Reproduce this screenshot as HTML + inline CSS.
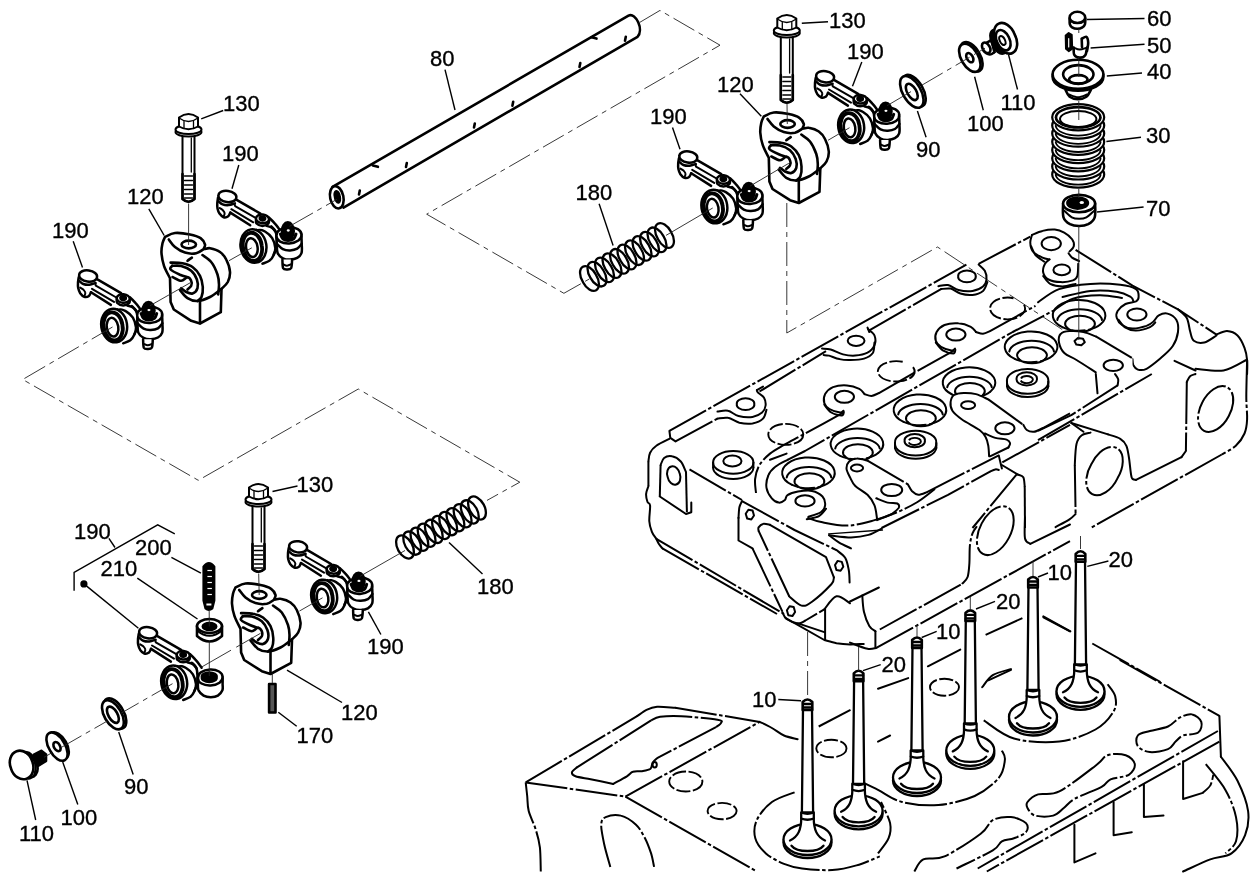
<!DOCTYPE html><html><head><meta charset="utf-8"><title>Parts diagram</title><style>
html,body{margin:0;padding:0;background:#fff}
svg{display:block;filter:grayscale(1)}
.k{fill:none;stroke:#000;stroke-width:2;stroke-linecap:round;stroke-linejoin:round}
.kw{fill:#fff;stroke:#000;stroke-width:2;stroke-linecap:round;stroke-linejoin:round}
.kb{fill:#000;stroke:#000;stroke-width:2;stroke-linecap:round;stroke-linejoin:round}
.k2{fill:none;stroke:#000;stroke-width:2.6;stroke-linecap:round;stroke-linejoin:round}
.k2w{fill:#fff;stroke:#000;stroke-width:2.6;stroke-linecap:round;stroke-linejoin:round}
.m{fill:none;stroke:#000;stroke-width:1.3;stroke-linecap:round;stroke-linejoin:round}
.mw{fill:#fff;stroke:#000;stroke-width:1.3;stroke-linecap:round;stroke-linejoin:round}
.t{fill:none;stroke:#222;stroke-width:0.9}
.td{fill:none;stroke:#222;stroke-width:0.9;stroke-dasharray:24 5 5 5}
.l{fill:none;stroke:#000;stroke-width:1.4}
.h{fill:none;stroke:#000;stroke-width:2;stroke-linecap:butt;stroke-linejoin:round;stroke-dasharray:42 2.5 3.5 2.5}
.hs{fill:none;stroke:#000;stroke-width:2;stroke-linecap:round;stroke-linejoin:round}
.hw{fill:#fff;stroke:#000;stroke-width:1.8;stroke-linecap:round;stroke-linejoin:round}
.hd{fill:none;stroke:#000;stroke-width:1.9;stroke-dasharray:14 2.5}
.rk .k,.rk .kw,.rk .kb{stroke-width:2.5}
.rk .k2{stroke-width:3}
.rk .m{stroke-width:2}
.bk .k,.bk .kw{stroke-width:2.6}
.vv .k,.vv .kw{stroke-width:2.3}
.wf{fill:#fff;stroke:none}
text{font-family:"Liberation Sans",sans-serif;font-size:22px;fill:#000;stroke:#000;stroke-width:0.35px}
</style></head><body><svg width="1258" height="880" viewBox="0 0 1258 880">
<rect width="1258" height="880" fill="#fff"/>
<path class="td" d="M639.9 22.3L660 10.4L720 45.2L426.7 214.2L563.9 293.3L589.3 279"/>
<path class="td" d="M786.8 203L786.8 333L937.5 247L1078 340"/>
<path class="kw" d="M182.5 132L182.5 199Q188.5 204.5 194.5 199L194.5 132Z"/>
<path class="k2" d="M182.5 174L182.5 199Q188.5 204.5 194.5 199L194.5 174"/>
<path class="m" d="M184.5 176L192.5 176"/>
<path class="m" d="M184.5 180.5L192.5 180.5"/>
<path class="m" d="M184.5 185L192.5 185"/>
<path class="m" d="M184.5 189.5L192.5 189.5"/>
<path class="m" d="M184.5 194L192.5 194"/>
<path class="m" d="M184.5 198L192.5 198"/>
<path class="m" d="M191.3 138L191.3 172"/>
<path class="kw" d="M201.5 132A13 4.6 0 1 1 175.5 132A13 4.6 0 1 1 201.5 132Z"/>
<path class="kw" d="M201.5 129.5A13 4.6 0 1 1 175.5 129.5A13 4.6 0 1 1 201.5 129.5Z"/>
<path class="kw" d="M179 117.5L179 126.5Q188.5 132 198 126.5L198 117.5Q188.5 110.5 179 117.5Z"/>
<path class="m" d="M179 118Q188.5 125 198 118"/>
<path class="m" d="M184 121.5L184 128.5M193.5 121.5L193.5 128.5"/>
<path class="kw" d="M780.8 33L780.8 100Q786.8 105.5 792.8 100L792.8 33Z"/>
<path class="k2" d="M780.8 75L780.8 100Q786.8 105.5 792.8 100L792.8 75"/>
<path class="m" d="M782.8 77L790.8 77"/>
<path class="m" d="M782.8 81.5L790.8 81.5"/>
<path class="m" d="M782.8 86L790.8 86"/>
<path class="m" d="M782.8 90.5L790.8 90.5"/>
<path class="m" d="M782.8 95L790.8 95"/>
<path class="m" d="M782.8 99L790.8 99"/>
<path class="m" d="M789.6 39L789.6 73"/>
<path class="kw" d="M799.8 33A13 4.6 0 1 1 773.8 33A13 4.6 0 1 1 799.8 33Z"/>
<path class="kw" d="M799.8 30.5A13 4.6 0 1 1 773.8 30.5A13 4.6 0 1 1 799.8 30.5Z"/>
<path class="kw" d="M777.3 18.5L777.3 27.5Q786.8 33 796.3 27.5L796.3 18.5Q786.8 11.5 777.3 18.5Z"/>
<path class="m" d="M777.3 19Q786.8 26 796.3 19"/>
<path class="m" d="M782.3 22.5L782.3 29.5M791.8 22.5L791.8 29.5"/>
<path class="kw" d="M252.5 502L252.5 569Q258.5 574.5 264.5 569L264.5 502Z"/>
<path class="k2" d="M252.5 544L252.5 569Q258.5 574.5 264.5 569L264.5 544"/>
<path class="m" d="M254.5 546L262.5 546"/>
<path class="m" d="M254.5 550.5L262.5 550.5"/>
<path class="m" d="M254.5 555L262.5 555"/>
<path class="m" d="M254.5 559.5L262.5 559.5"/>
<path class="m" d="M254.5 564L262.5 564"/>
<path class="m" d="M254.5 568L262.5 568"/>
<path class="m" d="M261.3 508L261.3 542"/>
<path class="kw" d="M271.5 502A13 4.6 0 1 1 245.5 502A13 4.6 0 1 1 271.5 502Z"/>
<path class="kw" d="M271.5 499.5A13 4.6 0 1 1 245.5 499.5A13 4.6 0 1 1 271.5 499.5Z"/>
<path class="kw" d="M249 487.5L249 496.5Q258.5 502 268 496.5L268 487.5Q258.5 480.5 249 487.5Z"/>
<path class="m" d="M249 488Q258.5 495 268 488"/>
<path class="m" d="M254 491.5L254 498.5M263.5 491.5L263.5 498.5"/>
<path class="k" style="stroke-width:2.3" d="M596 274.8A7.5 12.5 -29.8 1 1 583 282.2A7.5 12.5 -29.8 1 1 596 274.8Z"/>
<path class="k" style="stroke-width:2.3" d="M603.5 270.5A7.5 12.5 -29.8 1 1 590.5 277.9A7.5 12.5 -29.8 1 1 603.5 270.5Z"/>
<path class="k" style="stroke-width:2.3" d="M611 266.2A7.5 12.5 -29.8 1 1 598 273.6A7.5 12.5 -29.8 1 1 611 266.2Z"/>
<path class="k" style="stroke-width:2.3" d="M618.5 261.9A7.5 12.5 -29.8 1 1 605.5 269.3A7.5 12.5 -29.8 1 1 618.5 261.9Z"/>
<path class="k" style="stroke-width:2.3" d="M626 257.6A7.5 12.5 -29.8 1 1 613 265A7.5 12.5 -29.8 1 1 626 257.6Z"/>
<path class="k" style="stroke-width:2.3" d="M633.5 253.3A7.5 12.5 -29.8 1 1 620.5 260.7A7.5 12.5 -29.8 1 1 633.5 253.3Z"/>
<path class="k" style="stroke-width:2.3" d="M641 249A7.5 12.5 -29.8 1 1 628 256.4A7.5 12.5 -29.8 1 1 641 249Z"/>
<path class="k" style="stroke-width:2.3" d="M648.5 244.7A7.5 12.5 -29.8 1 1 635.5 252.1A7.5 12.5 -29.8 1 1 648.5 244.7Z"/>
<path class="k" style="stroke-width:2.3" d="M656 240.4A7.5 12.5 -29.8 1 1 643 247.8A7.5 12.5 -29.8 1 1 656 240.4Z"/>
<path class="k" style="stroke-width:2.3" d="M663.5 236.1A7.5 12.5 -29.8 1 1 650.5 243.5A7.5 12.5 -29.8 1 1 663.5 236.1Z"/>
<path class="k" style="stroke-width:2.3" d="M671 231.8A7.5 12.5 -29.8 1 1 658 239.2A7.5 12.5 -29.8 1 1 671 231.8Z"/>
<path class="k" style="stroke-width:2.3" d="M411.6 543.4A7.5 12.5 -28.4 1 1 398.4 550.6A7.5 12.5 -28.4 1 1 411.6 543.4Z"/>
<path class="k" style="stroke-width:2.3" d="M418.8 539.5A7.5 12.5 -28.4 1 1 405.6 546.7A7.5 12.5 -28.4 1 1 418.8 539.5Z"/>
<path class="k" style="stroke-width:2.3" d="M426 535.6A7.5 12.5 -28.4 1 1 412.8 542.8A7.5 12.5 -28.4 1 1 426 535.6Z"/>
<path class="k" style="stroke-width:2.3" d="M433.2 531.7A7.5 12.5 -28.4 1 1 420 538.9A7.5 12.5 -28.4 1 1 433.2 531.7Z"/>
<path class="k" style="stroke-width:2.3" d="M440.4 527.8A7.5 12.5 -28.4 1 1 427.2 535A7.5 12.5 -28.4 1 1 440.4 527.8Z"/>
<path class="k" style="stroke-width:2.3" d="M447.6 523.9A7.5 12.5 -28.4 1 1 434.4 531.1A7.5 12.5 -28.4 1 1 447.6 523.9Z"/>
<path class="k" style="stroke-width:2.3" d="M454.8 520A7.5 12.5 -28.4 1 1 441.6 527.2A7.5 12.5 -28.4 1 1 454.8 520Z"/>
<path class="k" style="stroke-width:2.3" d="M462 516.1A7.5 12.5 -28.4 1 1 448.8 523.3A7.5 12.5 -28.4 1 1 462 516.1Z"/>
<path class="k" style="stroke-width:2.3" d="M469.2 512.2A7.5 12.5 -28.4 1 1 456 519.4A7.5 12.5 -28.4 1 1 469.2 512.2Z"/>
<path class="k" style="stroke-width:2.3" d="M476.4 508.3A7.5 12.5 -28.4 1 1 463.2 515.5A7.5 12.5 -28.4 1 1 476.4 508.3Z"/>
<path class="k" style="stroke-width:2.3" d="M483.6 504.4A7.5 12.5 -28.4 1 1 470.4 511.6A7.5 12.5 -28.4 1 1 483.6 504.4Z"/>
<g class="bk"><path class="kw" d="M165 237C166.7 236.3 170.8 233.4 175 233C179.2 232.6 185.7 233.6 190 234.5C194.3 235.4 198.1 236.6 200.6 238.2C203.1 239.9 204.4 242.7 205 244.5C205.6 246.3 203.2 248.2 204 248.9C204.8 249.5 207.3 247.7 210 248.2C212.7 248.8 217.3 250.1 220 252C222.7 253.9 224.6 256.2 226.2 259.5C227.9 262.8 229.8 268.2 230 272C230.2 275.8 229.2 279.2 227.8 282C226.3 284.8 222.5 287.7 221.5 288.9L220.8 312.2L200 323.5L191.2 320.8L173.8 309.5L170.6 302L170 278.2C169 276.2 165.4 269.9 164 265.8C162.6 261.6 161.8 257 161.5 253.2C161.2 249.5 161.9 246 162.5 243.2C163.1 240.5 164.6 238 165 237Z"/>
<path class="k" d="M168.8 239.5C169.8 240.8 172.3 244.8 175 247C177.7 249.2 181.5 251.6 185 252.6C188.5 253.7 193.1 253.9 196.2 253.2C199.4 252.6 202.7 249.6 204 248.9"/>
<path class="k" d="M196 244.5A7.2 3.8 0 1 1 181.5 244.5A7.2 3.8 0 1 1 196 244.5Z"/>
<path class="k" d="M202.5 255.1C204 256.3 208.8 258.8 211.2 262C213.8 265.2 216.2 270.8 217.5 274.5C218.8 278.2 218.9 281.2 219 284.5C219.1 287.8 218.4 292.8 218.2 294.5"/>
<path class="k" d="M170.6 262.6C172.6 262.7 178.9 262.5 182.5 263.2C186.1 264 189.6 264.9 192.5 267C195.4 269.1 198.3 272.4 200 275.8C201.7 279.1 202.5 283.5 202.8 287C203 290.5 202.4 294.7 201.5 297C200.6 299.3 198.2 300.3 197.5 301"/>
<path class="k" d="M187.5 260.8C187.9 260.4 189.3 259.4 190 258.9C190.7 258.4 191.6 257.8 191.9 257.6"/>
<path class="k" d="M172.2 265.8C173.8 265.8 178.1 265.2 181.2 266C184.4 266.8 188.6 268.5 191.2 270.8C193.9 273 195.8 276.6 196.9 279.5C197.9 282.4 198.2 285.9 197.5 288.2C196.8 290.6 194.4 292.9 192.5 293.5C190.6 294.1 188.1 292.9 186.2 292C184.4 291.1 182.1 288.9 181.2 288.2"/>
<path class="k" d="M172.2 265.8C172 266.4 169.3 268 170.6 269.5C171.9 271 177.2 273.5 180 274.8C182.8 276 186.2 276.8 187.5 277.2"/>
<path class="k" d="M172.5 277C174 277.6 178.8 280.7 181.2 280.8C183.8 280.8 185.8 277.2 187.5 277.2C189.2 277.2 190.6 279.3 191.2 280.8C191.9 282.2 191.9 284.3 191.2 285.8C190.6 287.2 188.1 288.9 187.5 289.5"/>
<path class="k" d="M180 290.1C181.2 291.5 184.6 296.4 187.5 298.2C190.4 300.1 193.8 301.2 197.5 301C201.2 300.8 206 299 210 297C214 295 219.6 290.2 221.5 288.9"/>
<path class="k" d="M200 301L200 323.2"/></g>
<g class="bk"><path class="kw" d="M763.8 116.5C765.5 115.8 769.6 112.9 773.8 112.5C778 112.1 784.5 113.1 788.8 114C793.1 114.9 796.9 116.1 799.4 117.8C801.9 119.4 803.2 122.2 803.8 124C804.4 125.8 802 127.8 802.8 128.4C803.6 129 806.1 127.2 808.8 127.8C811.5 128.3 816.1 129.6 818.8 131.5C821.5 133.4 823.4 135.7 825 139C826.7 142.3 828.5 147.8 828.8 151.5C829 155.2 828 158.7 826.5 161.5C825.1 164.3 821.3 167.2 820.3 168.4L819.5 191.8L798.8 203L790 200.2L772.5 189L769.4 181.5L768.8 157.8C767.8 155.7 764.2 149.4 762.8 145.2C761.4 141.1 760.5 136.5 760.3 132.8C760 129 760.7 125.5 761.3 122.8C761.9 120 763.4 117.5 763.8 116.5Z"/>
<path class="k" d="M767.5 119C768.6 120.2 771.1 124.3 773.8 126.5C776.5 128.7 780.3 131.1 783.8 132.1C787.3 133.2 791.9 133.4 795 132.8C798.2 132.1 801.5 129.1 802.8 128.4"/>
<path class="k" d="M794.8 124A7.2 3.8 0 1 1 780.3 124A7.2 3.8 0 1 1 794.8 124Z"/>
<path class="k" d="M801.3 134.6C802.8 135.8 807.5 138.3 810 141.5C812.5 144.7 815 150.2 816.3 154C817.6 157.8 817.7 160.7 817.8 164C817.9 167.3 817.2 172.3 817 174"/>
<path class="k" d="M769.4 142.1C771.4 142.2 777.7 142 781.3 142.8C784.9 143.5 788.4 144.4 791.3 146.5C794.2 148.6 797.1 151.9 798.8 155.2C800.5 158.6 801.3 163 801.5 166.5C801.8 170 801.2 174.2 800.3 176.5C799.4 178.8 797 179.8 796.3 180.5"/>
<path class="k" d="M786.3 140.2C786.7 139.9 788.1 138.9 788.8 138.4C789.5 137.9 790.4 137.3 790.7 137.1"/>
<path class="k" d="M771 145.2C772.5 145.3 776.9 144.7 780 145.5C783.2 146.3 787.4 148 790 150.2C792.7 152.5 794.6 156.1 795.7 159C796.7 161.9 797 165.4 796.3 167.8C795.6 170.1 793.2 172.4 791.3 173C789.4 173.6 786.9 172.4 785 171.5C783.2 170.6 780.9 168.4 780 167.8"/>
<path class="k" d="M771 145.2C770.8 145.9 768.1 147.5 769.4 149C770.7 150.5 776 153 778.8 154.2C781.6 155.5 785 156.3 786.3 156.8"/>
<path class="k" d="M771.3 156.5C772.8 157.1 777.5 160.2 780 160.2C782.5 160.3 784.6 156.8 786.3 156.8C788 156.8 789.4 158.8 790 160.2C790.7 161.7 790.7 163.8 790 165.2C789.4 166.7 786.9 168.4 786.3 169"/>
<path class="k" d="M778.8 169.6C780 171 783.4 175.9 786.3 177.8C789.2 179.6 792.5 180.7 796.3 180.5C800 180.3 804.8 178.5 808.8 176.5C812.8 174.5 818.4 169.7 820.3 168.4"/>
<path class="k" d="M798.8 180.5L798.8 202.8"/></g>
<g class="bk"><path class="kw" d="M235.5 587.5C237.2 586.8 241.3 583.9 245.5 583.5C249.7 583.1 256.2 584.1 260.5 585C264.8 585.9 268.6 587.1 271.1 588.8C273.6 590.4 274.9 593.2 275.5 595C276.1 596.8 273.7 598.8 274.5 599.4C275.3 600 277.8 598.2 280.5 598.8C283.2 599.3 287.8 600.6 290.5 602.5C293.2 604.4 295.1 606.7 296.8 610C298.4 613.3 300.2 618.8 300.5 622.5C300.8 626.2 299.7 629.7 298.2 632.5C296.8 635.3 293 638.2 292 639.4L291.2 662.8L270.5 674L261.8 671.2L244.2 660L241.1 652.5L240.5 628.8C239.5 626.7 235.9 620.4 234.5 616.2C233.1 612.1 232.2 607.5 232 603.8C231.8 600 232.4 596.5 233 593.8C233.6 591 235.1 588.5 235.5 587.5Z"/>
<path class="k" d="M239.2 590C240.3 591.2 242.8 595.3 245.5 597.5C248.2 599.7 252 602.1 255.5 603.1C259 604.2 263.6 604.4 266.8 603.8C269.9 603.1 273.2 600.1 274.5 599.4"/>
<path class="k" d="M266.5 595A7.2 3.8 0 1 1 252 595A7.2 3.8 0 1 1 266.5 595Z"/>
<path class="k" d="M273 605.6C274.5 606.8 279.2 609.3 281.8 612.5C284.2 615.7 286.7 621.2 288 625C289.3 628.8 289.4 631.7 289.5 635C289.6 638.3 288.9 643.3 288.8 645"/>
<path class="k" d="M241.1 613.1C243.1 613.2 249.4 613 253 613.8C256.6 614.5 260.1 615.4 263 617.5C265.9 619.6 268.8 622.9 270.5 626.2C272.2 629.6 273 634 273.2 637.5C273.5 641 272.9 645.2 272 647.5C271.1 649.8 268.7 650.8 268 651.5"/>
<path class="k" d="M258 611.2C258.4 610.9 259.8 609.9 260.5 609.4C261.2 608.9 262.1 608.3 262.4 608.1"/>
<path class="k" d="M242.8 616.2C244.2 616.3 248.6 615.7 251.8 616.5C254.9 617.3 259.1 619 261.8 621.2C264.4 623.5 266.3 627.1 267.4 630C268.4 632.9 268.7 636.4 268 638.8C267.3 641.1 264.9 643.4 263 644C261.1 644.6 258.6 643.4 256.8 642.5C254.9 641.6 252.6 639.4 251.8 638.8"/>
<path class="k" d="M242.8 616.2C242.5 616.9 239.8 618.5 241.1 620C242.4 621.5 247.7 624 250.5 625.2C253.3 626.5 256.8 627.3 258 627.8"/>
<path class="k" d="M243 627.5C244.5 628.1 249.2 631.2 251.8 631.2C254.2 631.3 256.3 627.8 258 627.8C259.7 627.8 261.1 629.8 261.8 631.2C262.4 632.7 262.4 634.8 261.8 636.2C261.1 637.7 258.6 639.4 258 640"/>
<path class="k" d="M250.5 640.6C251.8 642 255.1 646.9 258 648.8C260.9 650.6 264.2 651.7 268 651.5C271.8 651.3 276.5 649.5 280.5 647.5C284.5 645.5 290.1 640.7 292 639.4"/>
<path class="k" d="M270.5 651.5L270.5 673.8"/></g>
<g class="rk"><path class="kw" d="M118.1 308.5C119.3 308.9 123.3 309.5 125.7 311.1C128.2 312.6 131.2 315 132.9 317.7C134.6 320.5 135.7 324.6 136 327.4C136.2 330.3 135.4 332.5 134.4 334.6C133.5 336.7 132.2 338.8 130.3 340.2C128.5 341.7 124.4 342.8 123.2 343.3"/>
<path class="kw" d="M91 292.2L110.9 305.1L118.1 308.5L131.3 307L140.6 312.1L142.1 310.1L136 302.9L130.3 297.3L123.2 293.9L97.6 278.9L85.3 272.2L79.2 277.3Z" style="stroke-width:0"/>
<path class="kw" d="M78.7 277.3C78.6 278.2 78.1 280.7 78 282.4C77.9 284.2 77.8 286.3 78.2 288.1C78.6 289.9 79.2 291.7 80.2 293.2C81.2 294.6 82.9 296.3 84.3 296.8C85.8 297.2 87.8 296.7 88.9 295.9C90 295.2 90.6 292.8 91 292.2"/>
<path class="kw" d="M97 277.3A9 5.3 8 1 1 79.2 274.8A9 5.3 8 1 1 97 277.3Z"/>
<path class="k" d="M79.2 280.9C79.9 281.4 81.6 283.4 83.3 284C85 284.6 87.4 284.9 89.4 284.7C91.5 284.5 94.5 283.3 95.6 283"/>
<path class="m" d="M95.4 284L95.8 285.7L117.2 298"/>
<path class="m" d="M92 288.8L114 301.9"/>
<path class="k" d="M97.4 279.4L121.1 293.2"/>
<path class="k" d="M91 292.2L110.9 304.9"/>
<path class="m" d="M80.2 287.6C80.7 287.9 82.4 288.8 83.3 289.6C84.1 290.5 85.2 291.6 85.3 292.7C85.5 293.8 84.5 295.7 84.3 296.3"/>
<path class="k" d="M129.8 297.3C130.8 298.2 133.8 301.1 135.4 302.9C137.1 304.7 138.5 306.6 139.5 308C140.6 309.4 141.2 310.6 141.6 311.1"/>
<path class="k" d="M127.3 305.5C128.2 305.8 131.3 306.5 132.9 307.5C134.4 308.5 135.9 310.9 136.5 311.6"/>
<path class="kw" d="M116.8 298.8C116.9 299.5 116.2 301.8 117.2 302.9C118.3 304 121.2 305.5 123.2 305.5C125.2 305.5 128.2 304 129.3 302.9C130.4 301.8 129.5 299.5 129.5 298.8"/>
<path class="kw" d="M129.7 299.1A6.5 4.3 5 1 1 116.7 297.9A6.5 4.3 5 1 1 129.7 299.1Z"/>
<path class="kb" d="M125.8 298.2A2.7 1.7 5 1 1 120.5 297.8A2.7 1.7 5 1 1 125.8 298.2Z"/>
<path class="k" d="M131.9 306C132.6 306.8 135.3 308.9 136.3 311.1C137.2 313.3 137.4 316.4 137.5 319.3C137.6 322.2 137.2 326 136.7 328.5C136.2 330.9 134.8 333.1 134.4 334.1"/>
<path class="kw" d="M126.9 323.6A12.9 16.8 -9 1 1 101.4 327.6A12.9 16.8 -9 1 1 126.9 323.6Z"/>
<path class="k" d="M122.4 324.9A9.4 13.1 -9 1 1 103.9 327.9A9.4 13.1 -9 1 1 122.4 324.9Z" style="stroke-width:3.8"/>
<path class="kw" d="M118.2 326.3A5.7 9.4 -9 1 1 106.9 328.1A5.7 9.4 -9 1 1 118.2 326.3Z"/>
<path class="kw" d="M137.3 315.2C137.3 316.5 137.3 320.5 137.5 323.3C137.7 326.2 137.3 330.1 138.3 332.6C139.3 335 141.5 336.8 143.6 337.9C145.7 339 148.4 339.3 150.8 339.2C153.2 339.1 156 338.6 157.9 337.5C159.8 336.4 161.5 334.9 162.2 332.6C163 330.2 162.5 326.5 162.4 323.3C162.4 320.2 162.1 315.3 162 313.6"/>
<path class="kw" d="M162.1 314.3A12.5 7.6 -3 1 1 137.2 315.6A12.5 7.6 -3 1 1 162.1 314.3Z"/>
<path class="k" d="M137.5 323.3C138.5 324.2 141.4 327.6 143.6 328.7C145.8 329.8 148.4 330.1 150.8 330C153.2 329.9 156 329.4 157.9 328.3C159.9 327.1 161.7 324.2 162.4 323.3"/>
<path class="kb" d="M154.5 310.6A5.9 8.6 0 1 1 142.6 310.6A5.9 8.6 0 1 1 154.5 310.6Z"/>
<path class="kw" d="M150.5 310.1A1.5 1.1 0 1 1 147.4 310.1A1.5 1.1 0 1 1 150.5 310.1Z" style="stroke-width:0"/>
<path class="k2" d="M141.1 313.6C141.5 314.4 142.3 317.4 143.6 318.4C144.9 319.5 146.9 320.1 148.7 320.1C150.5 320.1 153 319.5 154.4 318.4C155.7 317.4 156.3 314.4 156.7 313.6"/>
<path class="kw" d="M143.1 339.2C143.2 340.6 143.1 346 143.8 347.7C144.6 349.3 146.4 349.1 147.7 349.1C149 349.1 150.9 349.3 151.8 347.7C152.7 346 152.7 340.6 152.8 339.2"/>
<path class="m" d="M143.8 343.8C144.5 344.1 146.3 345.3 147.7 345.3C149.1 345.3 151.3 344.1 152 343.8"/></g>
<g class="rk"><path class="kw" d="M257.4 228.9C258.6 229.3 262.6 229.9 265 231.5C267.5 233 270.5 235.4 272.2 238.1C273.9 240.9 275 245 275.3 247.8C275.5 250.7 274.7 252.9 273.7 255C272.8 257.1 271.5 259.2 269.6 260.6C267.8 262.1 263.7 263.2 262.5 263.7"/>
<path class="kw" d="M230.3 212.6L250.2 225.5L257.4 228.9L270.6 227.4L279.9 232.5L281.4 230.5L275.3 223.3L269.6 217.7L262.5 214.3L236.9 199.3L224.6 192.6L218.5 197.7Z" style="stroke-width:0"/>
<path class="kw" d="M218 197.7C217.9 198.6 217.4 201.1 217.3 202.8C217.2 204.6 217.1 206.7 217.5 208.5C217.9 210.3 218.5 212.1 219.5 213.6C220.5 215 222.2 216.7 223.6 217.2C225.1 217.6 227.1 217.1 228.2 216.3C229.3 215.6 229.9 213.2 230.3 212.6"/>
<path class="kw" d="M236.3 197.7A9 5.3 8 1 1 218.5 195.2A9 5.3 8 1 1 236.3 197.7Z"/>
<path class="k" d="M218.5 201.3C219.2 201.8 220.9 203.8 222.6 204.4C224.3 205 226.7 205.3 228.7 205.1C230.8 204.9 233.8 203.7 234.9 203.4"/>
<path class="m" d="M234.7 204.4L235.1 206.1L256.5 218.4"/>
<path class="m" d="M231.3 209.2L253.3 222.3"/>
<path class="k" d="M236.7 199.8L260.4 213.6"/>
<path class="k" d="M230.3 212.6L250.2 225.3"/>
<path class="m" d="M219.5 208C220 208.3 221.7 209.2 222.6 210C223.4 210.9 224.5 212 224.6 213.1C224.8 214.2 223.8 216.1 223.6 216.7"/>
<path class="k" d="M269.1 217.7C270.1 218.6 273.1 221.5 274.7 223.3C276.4 225.1 277.8 227 278.8 228.4C279.9 229.8 280.5 231 280.9 231.5"/>
<path class="k" d="M266.6 225.9C267.5 226.2 270.6 226.9 272.2 227.9C273.7 228.9 275.2 231.3 275.8 232"/>
<path class="kw" d="M256.1 219.2C256.2 219.9 255.5 222.2 256.5 223.3C257.6 224.4 260.5 225.9 262.5 225.9C264.5 225.9 267.5 224.4 268.6 223.3C269.7 222.2 268.8 219.9 268.8 219.2"/>
<path class="kw" d="M269 219.5A6.5 4.3 5 1 1 256 218.3A6.5 4.3 5 1 1 269 219.5Z"/>
<path class="kb" d="M265.1 218.6A2.7 1.7 5 1 1 259.8 218.2A2.7 1.7 5 1 1 265.1 218.6Z"/>
<path class="k" d="M271.2 226.4C271.9 227.2 274.6 229.3 275.6 231.5C276.5 233.7 276.7 236.8 276.8 239.7C276.9 242.6 276.5 246.4 276 248.9C275.5 251.3 274.1 253.5 273.7 254.5"/>
<path class="kw" d="M266.2 244A12.9 16.8 -9 1 1 240.7 248A12.9 16.8 -9 1 1 266.2 244Z"/>
<path class="k" d="M261.7 245.3A9.4 13.1 -9 1 1 243.2 248.3A9.4 13.1 -9 1 1 261.7 245.3Z" style="stroke-width:3.8"/>
<path class="kw" d="M257.5 246.7A5.7 9.4 -9 1 1 246.2 248.5A5.7 9.4 -9 1 1 257.5 246.7Z"/>
<path class="kw" d="M276.6 235.6C276.6 236.9 276.6 240.9 276.8 243.7C277 246.6 276.6 250.5 277.6 253C278.6 255.4 280.8 257.2 282.9 258.3C285 259.4 287.7 259.7 290.1 259.6C292.5 259.5 295.3 259 297.2 257.9C299.1 256.8 300.8 255.3 301.5 253C302.3 250.6 301.8 246.9 301.7 243.7C301.7 240.6 301.4 235.7 301.3 234"/>
<path class="kw" d="M301.4 234.7A12.5 7.6 -3 1 1 276.5 236A12.5 7.6 -3 1 1 301.4 234.7Z"/>
<path class="k" d="M276.8 243.7C277.8 244.6 280.7 248 282.9 249.1C285.1 250.2 287.7 250.5 290.1 250.4C292.5 250.3 295.3 249.8 297.2 248.7C299.2 247.5 301 244.6 301.7 243.7"/>
<path class="kb" d="M293.8 231A5.9 8.6 0 1 1 281.9 231A5.9 8.6 0 1 1 293.8 231Z"/>
<path class="kw" d="M289.8 230.5A1.5 1.1 0 1 1 286.7 230.5A1.5 1.1 0 1 1 289.8 230.5Z" style="stroke-width:0"/>
<path class="k2" d="M280.4 234C280.8 234.8 281.6 237.8 282.9 238.8C284.2 239.9 286.2 240.5 288 240.5C289.8 240.5 292.3 239.9 293.7 238.8C295 237.8 295.6 234.8 296 234"/>
<path class="kw" d="M282.4 259.6C282.5 261 282.4 266.4 283.1 268.1C283.9 269.7 285.7 269.5 287 269.5C288.3 269.5 290.2 269.7 291.1 268.1C292 266.4 292 261 292.1 259.6"/>
<path class="m" d="M283.1 264.2C283.8 264.5 285.6 265.7 287 265.7C288.4 265.7 290.6 264.5 291.3 264.2"/></g>
<g class="rk"><path class="kw" d="M718.3 189.5C719.5 189.9 723.5 190.5 725.9 192.1C728.4 193.6 731.4 196 733.1 198.7C734.8 201.5 735.9 205.6 736.2 208.4C736.4 211.3 735.6 213.5 734.6 215.6C733.7 217.7 732.4 219.8 730.5 221.2C728.7 222.7 724.6 223.8 723.4 224.3"/>
<path class="kw" d="M691.2 173.2L711.1 186.1L718.3 189.5L731.5 188L740.8 193.1L742.3 191.1L736.2 183.9L730.5 178.3L723.4 174.9L697.8 159.9L685.5 153.2L679.4 158.3Z" style="stroke-width:0"/>
<path class="kw" d="M678.9 158.3C678.8 159.2 678.3 161.7 678.2 163.4C678.1 165.2 678 167.3 678.4 169.1C678.8 170.9 679.4 172.7 680.4 174.2C681.4 175.6 683.1 177.3 684.5 177.8C686 178.2 688 177.7 689.1 176.9C690.2 176.2 690.8 173.8 691.2 173.2"/>
<path class="kw" d="M697.2 158.3A9 5.3 8 1 1 679.4 155.8A9 5.3 8 1 1 697.2 158.3Z"/>
<path class="k" d="M679.4 161.9C680.1 162.4 681.8 164.4 683.5 165C685.2 165.6 687.6 165.9 689.6 165.7C691.7 165.5 694.7 164.3 695.8 164"/>
<path class="m" d="M695.6 165L696 166.7L717.4 179"/>
<path class="m" d="M692.2 169.8L714.2 182.9"/>
<path class="k" d="M697.6 160.4L721.3 174.2"/>
<path class="k" d="M691.2 173.2L711.1 185.9"/>
<path class="m" d="M680.4 168.6C680.9 168.9 682.6 169.8 683.5 170.6C684.3 171.5 685.4 172.6 685.5 173.7C685.7 174.8 684.7 176.7 684.5 177.3"/>
<path class="k" d="M730 178.3C731 179.2 734 182.1 735.6 183.9C737.3 185.7 738.7 187.6 739.7 189C740.8 190.4 741.4 191.6 741.8 192.1"/>
<path class="k" d="M727.5 186.5C728.4 186.8 731.5 187.5 733.1 188.5C734.6 189.5 736.1 191.9 736.7 192.6"/>
<path class="kw" d="M717 179.8C717.1 180.5 716.4 182.8 717.4 183.9C718.5 185 721.4 186.5 723.4 186.5C725.4 186.5 728.4 185 729.5 183.9C730.6 182.8 729.7 180.5 729.7 179.8"/>
<path class="kw" d="M729.9 180.1A6.5 4.3 5 1 1 716.9 178.9A6.5 4.3 5 1 1 729.9 180.1Z"/>
<path class="kb" d="M726 179.2A2.7 1.7 5 1 1 720.7 178.8A2.7 1.7 5 1 1 726 179.2Z"/>
<path class="k" d="M732.1 187C732.8 187.8 735.5 189.9 736.5 192.1C737.4 194.3 737.6 197.4 737.7 200.3C737.8 203.2 737.4 207 736.9 209.5C736.4 211.9 735 214.1 734.6 215.1"/>
<path class="kw" d="M727.1 204.6A12.9 16.8 -9 1 1 701.6 208.6A12.9 16.8 -9 1 1 727.1 204.6Z"/>
<path class="k" d="M722.6 205.9A9.4 13.1 -9 1 1 704.1 208.9A9.4 13.1 -9 1 1 722.6 205.9Z" style="stroke-width:3.8"/>
<path class="kw" d="M718.4 207.3A5.7 9.4 -9 1 1 707.1 209.1A5.7 9.4 -9 1 1 718.4 207.3Z"/>
<path class="kw" d="M737.5 196.2C737.5 197.5 737.5 201.5 737.7 204.3C737.9 207.2 737.5 211.1 738.5 213.6C739.5 216 741.7 217.8 743.8 218.9C745.9 220 748.6 220.3 751 220.2C753.4 220.1 756.2 219.6 758.1 218.5C760 217.4 761.7 215.9 762.4 213.6C763.2 211.2 762.7 207.5 762.6 204.3C762.6 201.2 762.3 196.3 762.2 194.6"/>
<path class="kw" d="M762.3 195.3A12.5 7.6 -3 1 1 737.4 196.6A12.5 7.6 -3 1 1 762.3 195.3Z"/>
<path class="k" d="M737.7 204.3C738.7 205.2 741.6 208.6 743.8 209.7C746 210.8 748.6 211.1 751 211C753.4 210.9 756.2 210.4 758.1 209.3C760.1 208.1 761.9 205.2 762.6 204.3"/>
<path class="kb" d="M754.7 191.6A5.9 8.6 0 1 1 742.8 191.6A5.9 8.6 0 1 1 754.7 191.6Z"/>
<path class="kw" d="M750.7 191.1A1.5 1.1 0 1 1 747.6 191.1A1.5 1.1 0 1 1 750.7 191.1Z" style="stroke-width:0"/>
<path class="k2" d="M741.3 194.6C741.7 195.4 742.5 198.4 743.8 199.4C745.1 200.5 747.1 201.1 748.9 201.1C750.7 201.1 753.2 200.5 754.6 199.4C755.9 198.4 756.5 195.4 756.9 194.6"/>
<path class="kw" d="M743.3 220.2C743.4 221.6 743.3 227 744 228.7C744.8 230.3 746.6 230.1 747.9 230.1C749.2 230.1 751.1 230.3 752 228.7C752.9 227 752.9 221.6 753 220.2"/>
<path class="m" d="M744 224.8C744.7 225.1 746.5 226.3 747.9 226.3C749.3 226.3 751.5 225.1 752.2 224.8"/></g>
<g class="rk"><path class="kw" d="M855.1 109.2C856.3 109.6 860.3 110.2 862.7 111.8C865.2 113.3 868.2 115.7 869.9 118.4C871.6 121.2 872.7 125.3 873 128.1C873.2 131 872.4 133.2 871.4 135.3C870.5 137.4 869.2 139.5 867.3 140.9C865.5 142.4 861.4 143.5 860.2 144"/>
<path class="kw" d="M828 92.9L847.9 105.8L855.1 109.2L868.3 107.7L877.6 112.8L879.1 110.8L873 103.6L867.3 98L860.2 94.6L834.6 79.6L822.3 72.9L816.2 78Z" style="stroke-width:0"/>
<path class="kw" d="M815.7 78C815.6 78.9 815.1 81.4 815 83.1C814.9 84.9 814.8 87 815.2 88.8C815.6 90.6 816.2 92.4 817.2 93.9C818.2 95.3 819.9 97 821.3 97.5C822.8 97.9 824.8 97.4 825.9 96.6C827 95.9 827.6 93.5 828 92.9"/>
<path class="kw" d="M834 78A9 5.3 8 1 1 816.2 75.5A9 5.3 8 1 1 834 78Z"/>
<path class="k" d="M816.2 81.6C816.9 82.1 818.6 84.1 820.3 84.7C822 85.3 824.4 85.6 826.4 85.4C828.5 85.2 831.5 84 832.6 83.7"/>
<path class="m" d="M832.4 84.7L832.8 86.4L854.2 98.7"/>
<path class="m" d="M829 89.5L851 102.6"/>
<path class="k" d="M834.4 80.1L858.1 93.9"/>
<path class="k" d="M828 92.9L847.9 105.6"/>
<path class="m" d="M817.2 88.3C817.7 88.6 819.4 89.5 820.3 90.3C821.1 91.2 822.2 92.3 822.3 93.4C822.5 94.5 821.5 96.4 821.3 97"/>
<path class="k" d="M866.8 98C867.8 98.9 870.8 101.8 872.4 103.6C874.1 105.4 875.5 107.3 876.5 108.7C877.6 110.1 878.2 111.3 878.6 111.8"/>
<path class="k" d="M864.3 106.2C865.2 106.5 868.3 107.2 869.9 108.2C871.4 109.2 872.9 111.6 873.5 112.3"/>
<path class="kw" d="M853.8 99.5C853.9 100.2 853.2 102.5 854.2 103.6C855.3 104.7 858.2 106.2 860.2 106.2C862.2 106.2 865.2 104.7 866.3 103.6C867.4 102.5 866.5 100.2 866.5 99.5"/>
<path class="kw" d="M866.7 99.8A6.5 4.3 5 1 1 853.7 98.6A6.5 4.3 5 1 1 866.7 99.8Z"/>
<path class="kb" d="M862.8 98.9A2.7 1.7 5 1 1 857.5 98.5A2.7 1.7 5 1 1 862.8 98.9Z"/>
<path class="k" d="M868.9 106.7C869.6 107.5 872.3 109.6 873.3 111.8C874.2 114 874.4 117.1 874.5 120C874.6 122.9 874.2 126.7 873.7 129.2C873.2 131.6 871.8 133.8 871.4 134.8"/>
<path class="kw" d="M863.9 124.3A12.9 16.8 -9 1 1 838.4 128.3A12.9 16.8 -9 1 1 863.9 124.3Z"/>
<path class="k" d="M859.4 125.6A9.4 13.1 -9 1 1 840.9 128.6A9.4 13.1 -9 1 1 859.4 125.6Z" style="stroke-width:3.8"/>
<path class="kw" d="M855.2 127A5.7 9.4 -9 1 1 843.9 128.8A5.7 9.4 -9 1 1 855.2 127Z"/>
<path class="kw" d="M874.3 115.9C874.3 117.2 874.3 121.2 874.5 124C874.7 126.9 874.3 130.8 875.3 133.3C876.3 135.7 878.5 137.5 880.6 138.6C882.7 139.7 885.4 140 887.8 139.9C890.2 139.8 893 139.3 894.9 138.2C896.8 137.1 898.5 135.6 899.2 133.3C900 130.9 899.5 127.2 899.4 124C899.4 120.9 899.1 116 899 114.3"/>
<path class="kw" d="M899.1 115A12.5 7.6 -3 1 1 874.2 116.3A12.5 7.6 -3 1 1 899.1 115Z"/>
<path class="k" d="M874.5 124C875.5 124.9 878.4 128.3 880.6 129.4C882.8 130.5 885.4 130.8 887.8 130.7C890.2 130.6 893 130.1 894.9 129C896.9 127.8 898.7 124.9 899.4 124"/>
<path class="kb" d="M891.5 111.3A5.9 8.6 0 1 1 879.6 111.3A5.9 8.6 0 1 1 891.5 111.3Z"/>
<path class="kw" d="M887.5 110.8A1.5 1.1 0 1 1 884.4 110.8A1.5 1.1 0 1 1 887.5 110.8Z" style="stroke-width:0"/>
<path class="k2" d="M878.1 114.3C878.5 115.1 879.3 118.1 880.6 119.1C881.9 120.2 883.9 120.8 885.7 120.8C887.5 120.8 890 120.2 891.4 119.1C892.7 118.1 893.3 115.1 893.7 114.3"/>
<path class="kw" d="M880.1 139.9C880.2 141.3 880.1 146.7 880.8 148.4C881.6 150 883.4 149.8 884.7 149.8C886 149.8 887.9 150 888.8 148.4C889.7 146.7 889.7 141.3 889.8 139.9"/>
<path class="m" d="M880.8 144.5C881.5 144.8 883.3 146 884.7 146C886.1 146 888.3 144.8 889 144.5"/></g>
<g class="rk"><path class="kw" d="M328.1 579.3C329.3 579.7 333.3 580.3 335.7 581.9C338.2 583.4 341.2 585.8 342.9 588.5C344.6 591.3 345.7 595.4 346 598.2C346.2 601.1 345.4 603.3 344.4 605.4C343.5 607.5 342.2 609.6 340.3 611C338.5 612.5 334.4 613.6 333.2 614.1"/>
<path class="kw" d="M301 563L320.9 575.9L328.1 579.3L341.3 577.8L350.6 582.9L352.1 580.9L346 573.7L340.3 568.1L333.2 564.7L307.6 549.7L295.3 543L289.2 548.1Z" style="stroke-width:0"/>
<path class="kw" d="M288.7 548.1C288.6 549 288.1 551.5 288 553.2C287.9 555 287.8 557.1 288.2 558.9C288.6 560.7 289.2 562.5 290.2 564C291.2 565.4 292.9 567.1 294.3 567.6C295.8 568 297.8 567.5 298.9 566.7C300 566 300.6 563.6 301 563"/>
<path class="kw" d="M307 548.1A9 5.3 8 1 1 289.2 545.6A9 5.3 8 1 1 307 548.1Z"/>
<path class="k" d="M289.2 551.7C289.9 552.2 291.6 554.2 293.3 554.8C295 555.4 297.4 555.7 299.4 555.5C301.5 555.3 304.5 554.1 305.6 553.8"/>
<path class="m" d="M305.4 554.8L305.8 556.5L327.2 568.8"/>
<path class="m" d="M302 559.6L324 572.7"/>
<path class="k" d="M307.4 550.2L331.1 564"/>
<path class="k" d="M301 563L320.9 575.7"/>
<path class="m" d="M290.2 558.4C290.7 558.7 292.4 559.6 293.3 560.4C294.1 561.3 295.2 562.4 295.3 563.5C295.5 564.6 294.5 566.5 294.3 567.1"/>
<path class="k" d="M339.8 568.1C340.8 569 343.8 571.9 345.4 573.7C347.1 575.5 348.5 577.4 349.5 578.8C350.6 580.2 351.2 581.4 351.6 581.9"/>
<path class="k" d="M337.3 576.3C338.2 576.6 341.3 577.3 342.9 578.3C344.4 579.3 345.9 581.7 346.5 582.4"/>
<path class="kw" d="M326.8 569.6C326.9 570.3 326.2 572.6 327.2 573.7C328.3 574.8 331.2 576.3 333.2 576.3C335.2 576.3 338.2 574.8 339.3 573.7C340.4 572.6 339.5 570.3 339.5 569.6"/>
<path class="kw" d="M339.7 569.9A6.5 4.3 5 1 1 326.7 568.7A6.5 4.3 5 1 1 339.7 569.9Z"/>
<path class="kb" d="M335.8 569A2.7 1.7 5 1 1 330.5 568.6A2.7 1.7 5 1 1 335.8 569Z"/>
<path class="k" d="M341.9 576.8C342.6 577.6 345.3 579.7 346.3 581.9C347.2 584.1 347.4 587.2 347.5 590.1C347.6 593 347.2 596.8 346.7 599.3C346.2 601.7 344.8 603.9 344.4 604.9"/>
<path class="kw" d="M336.9 594.4A12.9 16.8 -9 1 1 311.4 598.4A12.9 16.8 -9 1 1 336.9 594.4Z"/>
<path class="k" d="M332.4 595.7A9.4 13.1 -9 1 1 313.9 598.7A9.4 13.1 -9 1 1 332.4 595.7Z" style="stroke-width:3.8"/>
<path class="kw" d="M328.2 597.1A5.7 9.4 -9 1 1 316.9 598.9A5.7 9.4 -9 1 1 328.2 597.1Z"/>
<path class="kw" d="M347.3 586C347.3 587.3 347.3 591.3 347.5 594.1C347.7 597 347.3 600.9 348.3 603.4C349.3 605.8 351.5 607.6 353.6 608.7C355.7 609.8 358.4 610.1 360.8 610C363.2 609.9 366 609.4 367.9 608.3C369.8 607.2 371.5 605.7 372.2 603.4C373 601 372.5 597.3 372.4 594.1C372.4 591 372.1 586.1 372 584.4"/>
<path class="kw" d="M372.1 585.1A12.5 7.6 -3 1 1 347.2 586.4A12.5 7.6 -3 1 1 372.1 585.1Z"/>
<path class="k" d="M347.5 594.1C348.5 595 351.4 598.4 353.6 599.5C355.8 600.6 358.4 600.9 360.8 600.8C363.2 600.7 366 600.2 367.9 599.1C369.9 597.9 371.7 595 372.4 594.1"/>
<path class="kb" d="M364.5 581.4A5.9 8.6 0 1 1 352.6 581.4A5.9 8.6 0 1 1 364.5 581.4Z"/>
<path class="kw" d="M360.5 580.9A1.5 1.1 0 1 1 357.4 580.9A1.5 1.1 0 1 1 360.5 580.9Z" style="stroke-width:0"/>
<path class="k2" d="M351.1 584.4C351.5 585.2 352.3 588.2 353.6 589.2C354.9 590.3 356.9 590.9 358.7 590.9C360.5 590.9 363 590.3 364.4 589.2C365.7 588.2 366.3 585.2 366.7 584.4"/>
<path class="kw" d="M353.1 610C353.2 611.4 353.1 616.8 353.8 618.5C354.6 620.1 356.4 619.9 357.7 619.9C359 619.9 360.9 620.1 361.8 618.5C362.7 616.8 362.7 611.4 362.8 610"/>
<path class="m" d="M353.8 614.6C354.5 614.9 356.3 616.1 357.7 616.1C359.1 616.1 361.3 614.9 362 614.6"/></g>
<path class="k2w" d="M921.8 86.2A9 17.5 -30 1 1 906.2 95.2A9 17.5 -30 1 1 921.8 86.2Z"/>
<path class="k2w" d="M919.6 87.4A9 17.5 -30 1 1 904 96.4A9 17.5 -30 1 1 919.6 87.4Z"/>
<path class="k2w" d="M915.7 89.7A4.5 9 -30 1 1 907.9 94.2A4.5 9 -30 1 1 915.7 89.7Z"/>
<path class="k2w" d="M978.9 52.5A8.5 15.5 -30 1 1 964.2 61A8.5 15.5 -30 1 1 978.9 52.5Z"/>
<path class="k2w" d="M977.2 53.5A8.5 15.5 -30 1 1 962.4 62A8.5 15.5 -30 1 1 977.2 53.5Z"/>
<path class="k2w" d="M972.4 56.2A3 5 -30 1 1 967.2 59.2A3 5 -30 1 1 972.4 56.2Z"/>
<path class="k2w" d="M984.1 44.2C984 45.2 982.4 48.8 983.3 50.5C984.3 52.3 987.8 54.3 989.7 54.5C991.6 54.8 993.7 52.5 994.5 52.1"/>
<path class="k2w" d="M984.1 44.2L991.3 40.2L994.5 52.1"/>
<path class="k2w" d="M989.2 46.1A3.5 5.1 -30 1 1 983.2 49.6A3.5 5.1 -30 1 1 989.2 46.1Z"/>
<path class="kb" d="M1004.5 39A6.7 11.9 -25 1 1 992.4 44.6A6.7 11.9 -25 1 1 1004.5 39Z"/>
<path class="k2w" d="M1014.5 34.1A9.9 14.6 -25 1 1 996.7 42.5A9.9 14.6 -25 1 1 1014.5 34.1Z"/>
<path class="k2" d="M1009 37.5A6.4 10.5 -25 1 1 997.4 42.9A6.4 10.5 -25 1 1 1009 37.5Z"/>
<path class="k" d="M1004.7 39.4A2.5 4.8 -25 1 1 1000.1 41.6A2.5 4.8 -25 1 1 1004.7 39.4Z"/>
<path class="k2w" d="M122.4 709.2A8.5 16 -30 1 1 107.7 717.7A8.5 16 -30 1 1 122.4 709.2Z"/>
<path class="k2w" d="M120.3 710.5A8.5 16 -30 1 1 105.5 719A8.5 16 -30 1 1 120.3 710.5Z"/>
<path class="k2w" d="M116.8 712.5A4.5 9 -30 1 1 109 717A4.5 9 -30 1 1 116.8 712.5Z"/>
<path class="k2w" d="M65.7 741.6A8 14.5 -30 1 1 51.8 749.6A8 14.5 -30 1 1 65.7 741.6Z"/>
<path class="k2w" d="M63.9 742.6A8 14.5 -30 1 1 50.1 750.6A8 14.5 -30 1 1 63.9 742.6Z"/>
<path class="k2w" d="M59.6 745.1A3 5 -30 1 1 54.4 748.1A3 5 -30 1 1 59.6 745.1Z"/>
<path class="kb" d="M33.8 754.3L41.5 750.5L46.3 754.3L46.3 761.1L38.6 765.9L34.7 763Z"/>
<path class="k2w" d="M21.2 751.8C22.5 752 26.7 751.8 29 753C31.2 754.2 33.3 756.7 34.7 759.2C36.2 761.6 37.5 765.3 37.6 767.8C37.8 770.4 37.2 772.8 35.7 774.6C34.3 776.4 30.1 777.8 29 778.5"/>
<path class="k2w" d="M32.1 761.1A11.2 13.9 -20 1 1 11.1 768.8A11.2 13.9 -20 1 1 32.1 761.1Z"/>
<path class="k" d="M25.1 752.4C26.2 753.2 30.1 754.8 31.9 757.2C33.6 759.6 35.4 763.7 35.7 766.9C36 770.1 34.1 774.9 33.8 776.5"/>
<path class="k2w" d="M332.5 186.8L628.5 15.6C636 12 644 30 637.5 36.8L343.5 207.6"/>
<path class="k2w" d="M343.3 195.9A6.6 11.2 -12 1 1 330.3 198.7A6.6 11.2 -12 1 1 343.3 195.9Z"/>
<path class="kb" d="M339.8 196.3A2.6 5 -12 1 1 334.8 197.3A2.6 5 -12 1 1 339.8 196.3Z"/>
<path class="k2" d="M359 194.5L359.8 190.5"/>
<path class="k2" d="M406 167L406.8 163"/>
<path class="k2" d="M474 127.5L474.8 123.5"/>
<path class="k2" d="M512.4 105.8L513.2 101.8"/>
<path class="k2" d="M579.5 67L580.3 63"/>
<path class="k2" d="M625 40.7L625.8 36.7"/>
<path class="k2" d="M372.9 165.5L377.9 166.8"/>
<path class="k2" d="M591.5 37.3L596.5 38.6"/>
<path class="k2w" d="M1069.6 18.5C1069.6 19.4 1069.5 22.9 1069.9 24.4C1070.3 25.8 1070.9 26.6 1072.1 27.3C1073.3 28.1 1075.5 28.8 1077.3 28.8C1079 28.8 1081.2 28.1 1082.4 27.3C1083.7 26.6 1084.5 25.8 1084.9 24.4C1085.4 22.9 1085.3 19.4 1085.4 18.5"/>
<path class="k2w" d="M1085.2 17.4A7.8 5.6 0 1 1 1069.6 17.4A7.8 5.6 0 1 1 1085.2 17.4Z"/>
<path class="k" d="M1069.9 19.9C1070.5 20.4 1072.3 21.9 1073.6 22.5C1074.9 23 1076.2 23 1077.6 23C1078.9 23 1080.4 23 1081.7 22.5C1083 21.9 1084.5 20.4 1085.1 19.9"/>
<path class="kb" d="M1065.7 35.5L1068.7 33.1L1071.7 34.9L1072.2 48.7L1068.7 51.1L1066 48.7Z"/>
<path class="k" d="M1068.7 38.7L1068.7 47" style="stroke:#fff;stroke-width:1.2"/>
<path class="k2" d="M1082 38.7C1082.7 38.4 1085.4 36.2 1086.4 36.9C1087.5 37.6 1088.1 40.5 1088.2 42.8C1088.3 45.2 1087.2 49.6 1087 51"/>
<path class="k2w" d="M1073.7 47.6C1073.8 48.8 1073.3 53.3 1074.3 54.9C1075.3 56.6 1077.8 57.6 1079.6 57.6C1081.5 57.7 1084 56.9 1085.2 55.2C1086.5 53.6 1086.7 48.8 1087 47.6"/>
<path class="k" d="M1073.7 47.6C1074.7 47.9 1077.4 49.6 1079.6 49.6C1081.8 49.6 1085.8 47.9 1087 47.6"/>
<path class="k2" d="M1081.7 38.7L1082 47"/>
<path class="k2w" d="M1065.5 89.8C1066.1 91 1067.5 95.2 1069.6 96.8C1071.7 98.3 1075.2 99.3 1078 99.3C1080.8 99.3 1084.3 98.3 1086.4 96.8C1088.6 95.2 1090.1 91 1090.9 89.8"/>
<path class="k" d="M1069.1 94.5C1070.6 95 1075.1 97.2 1078 97.2C1081 97.2 1085.4 95 1086.9 94.5"/>
<path class="k2w" d="M1103.4 76.8A25.4 14 0 1 1 1052.6 76.8A25.4 14 0 1 1 1103.4 76.8Z"/>
<path class="k2w" d="M1103.4 74.3A25.4 14.5 0 1 1 1052.6 74.3A25.4 14.5 0 1 1 1103.4 74.3Z"/>
<path class="k2w" d="M1093.5 74.3A15.2 9.2 0 1 1 1063.1 74.3A15.2 9.2 0 1 1 1093.5 74.3Z"/>
<path class="k2" d="M1087.5 79.5A9.2 4.4 0 1 1 1069.1 79.5A9.2 4.4 0 1 1 1087.5 79.5Z"/>
<path class="kw" d="M1104.2 174.5A26 13.1 0 1 1 1052.2 174.5A26 13.1 0 1 1 1104.2 174.5Z" style="stroke-width:2.2"/>
<path class="k" d="M1100.6 174.9A22.5 10.5 0 0 1 1055.7 174.9" style="stroke-width:1.8"/>
<path class="kw" d="M1104.2 166.4A26 13.1 0 1 1 1052.2 166.4A26 13.1 0 1 1 1104.2 166.4Z" style="stroke-width:2.2"/>
<path class="k" d="M1100.6 166.7A22.5 10.5 0 0 1 1055.7 166.7" style="stroke-width:1.8"/>
<path class="kw" d="M1104.2 158.2A26 13.1 0 1 1 1052.2 158.2A26 13.1 0 1 1 1104.2 158.2Z" style="stroke-width:2.2"/>
<path class="k" d="M1100.6 158.6A22.5 10.5 0 0 1 1055.7 158.6" style="stroke-width:1.8"/>
<path class="kw" d="M1104.2 150A26 13.1 0 1 1 1052.2 150A26 13.1 0 1 1 1104.2 150Z" style="stroke-width:2.2"/>
<path class="k" d="M1100.6 150.4A22.5 10.5 0 0 1 1055.7 150.4" style="stroke-width:1.8"/>
<path class="kw" d="M1104.2 141.8A26 13.1 0 1 1 1052.2 141.8A26 13.1 0 1 1 1104.2 141.8Z" style="stroke-width:2.2"/>
<path class="k" d="M1100.6 142.2A22.5 10.5 0 0 1 1055.7 142.2" style="stroke-width:1.8"/>
<path class="kw" d="M1104.2 133.6A26 13.1 0 1 1 1052.2 133.6A26 13.1 0 1 1 1104.2 133.6Z" style="stroke-width:2.2"/>
<path class="k" d="M1100.6 134A22.5 10.5 0 0 1 1055.7 134" style="stroke-width:1.8"/>
<path class="kw" d="M1104.2 125.5A26 13.1 0 1 1 1052.2 125.5A26 13.1 0 1 1 1104.2 125.5Z" style="stroke-width:2.2"/>
<path class="k" d="M1100.6 125.8A22.5 10.5 0 0 1 1055.7 125.8" style="stroke-width:1.8"/>
<path class="kw" d="M1104.2 117.3A26 13.1 0 1 1 1052.2 117.3A26 13.1 0 1 1 1104.2 117.3Z" style="stroke-width:2.2"/>
<path class="k" d="M1100.6 117.6A22.5 10.5 0 0 1 1055.7 117.6" style="stroke-width:1.8"/>
<path class="k2w" d="M1100.4 117.3A22.2 10.2 0 1 1 1056 117.3A22.2 10.2 0 1 1 1100.4 117.3Z"/>
<path class="k" d="M1096.4 119.1A18.2 8 0 1 1 1060 119.1A18.2 8 0 1 1 1096.4 119.1Z"/>
<path class="k2w" d="M1063.1 203.6C1063.2 205.9 1062.3 213.8 1063.5 217.3C1064.6 220.7 1067.4 222.7 1070 224.2C1072.6 225.6 1076.1 226 1079.1 226C1082.1 226 1085.6 225.6 1088.2 224.2C1090.8 222.7 1093.6 220.7 1094.7 217.3C1095.9 213.8 1095 205.9 1095.1 203.6"/>
<path class="k2w" d="M1095.1 203.6A16 8.7 0 1 1 1063.1 203.6A16 8.7 0 1 1 1095.1 203.6Z"/>
<path class="kb" d="M1088.2 203.1A10.5 5.8 0 1 1 1067.1 203.1A10.5 5.8 0 1 1 1088.2 203.1Z"/>
<path class="kw" d="M1084 202.4A2.2 1.5 0 1 1 1079.6 202.4A2.2 1.5 0 1 1 1084 202.4Z" style="stroke-width:0"/>
<path class="k" d="M1064.5 210.9C1065.8 212 1069.4 216 1071.8 217.3C1074.2 218.6 1076.7 218.7 1079.1 218.7C1081.5 218.7 1083.9 218.6 1086.4 217.3C1088.8 216 1092.7 212 1094 210.9"/>
<g class="rk"><path class="kw" d="M178.1 665.2C179.3 665.6 183.3 666.2 185.7 667.8C188.2 669.3 191.2 671.7 192.9 674.4C194.6 677.2 195.7 681.3 196 684.1C196.2 687 195.4 689.2 194.4 691.3C193.5 693.4 192.2 695.5 190.3 696.9C188.5 698.4 184.4 699.5 183.2 700"/>
<path class="kw" d="M151 648.9L170.9 661.8L178.1 665.2L191.3 663.7L200.6 668.8L202.1 666.8L196 659.6L190.3 654L183.2 650.6L157.6 635.6L145.3 628.9L139.2 634Z" style="stroke-width:0"/>
<path class="kw" d="M138.7 634C138.6 634.9 138.1 637.4 138 639.1C137.9 640.9 137.8 643 138.2 644.8C138.6 646.6 139.2 648.4 140.2 649.9C141.2 651.3 142.9 653 144.3 653.5C145.8 653.9 147.8 653.4 148.9 652.6C150 651.9 150.6 649.5 151 648.9"/>
<path class="kw" d="M157 634A9 5.3 8 1 1 139.2 631.5A9 5.3 8 1 1 157 634Z"/>
<path class="k" d="M139.2 637.6C139.9 638.1 141.6 640.1 143.3 640.7C145 641.3 147.4 641.6 149.4 641.4C151.5 641.2 154.5 640 155.6 639.7"/>
<path class="m" d="M155.4 640.7L155.8 642.4L177.2 654.7"/>
<path class="m" d="M152 645.5L174 658.6"/>
<path class="k" d="M157.4 636.1L181.1 649.9"/>
<path class="k" d="M151 648.9L170.9 661.6"/>
<path class="m" d="M140.2 644.3C140.7 644.6 142.4 645.5 143.3 646.3C144.1 647.2 145.2 648.3 145.3 649.4C145.5 650.5 144.5 652.4 144.3 653"/>
<path class="k" d="M189.8 654C190.8 654.9 193.8 657.8 195.4 659.6C197.1 661.4 198.5 663.3 199.5 664.7C200.6 666.1 201.2 667.3 201.6 667.8"/>
<path class="k" d="M187.3 662.2C188.2 662.5 191.3 663.2 192.9 664.2C194.4 665.2 195.9 667.6 196.5 668.3"/>
<path class="kw" d="M176.8 655.5C176.9 656.2 176.2 658.5 177.2 659.6C178.3 660.7 181.2 662.2 183.2 662.2C185.2 662.2 188.2 660.7 189.3 659.6C190.4 658.5 189.5 656.2 189.5 655.5"/>
<path class="kw" d="M189.7 655.8A6.5 4.3 5 1 1 176.7 654.6A6.5 4.3 5 1 1 189.7 655.8Z"/>
<path class="kb" d="M185.8 654.9A2.7 1.7 5 1 1 180.5 654.5A2.7 1.7 5 1 1 185.8 654.9Z"/>
<path class="k" d="M191.9 662.7C192.6 663.5 195.3 665.6 196.3 667.8C197.2 670 197.4 673.1 197.5 676C197.6 678.9 197.2 682.7 196.7 685.2C196.2 687.6 194.8 689.8 194.4 690.8"/>
<path class="kw" d="M186.9 680.3A12.9 16.8 -9 1 1 161.4 684.3A12.9 16.8 -9 1 1 186.9 680.3Z"/>
<path class="k" d="M182.4 681.6A9.4 13.1 -9 1 1 163.9 684.6A9.4 13.1 -9 1 1 182.4 681.6Z" style="stroke-width:3.8"/>
<path class="kw" d="M178.2 683A5.7 9.4 -9 1 1 166.9 684.8A5.7 9.4 -9 1 1 178.2 683Z"/></g>
<g class="rk"><path class="kw" d="M197.8 677.5C197.8 678.6 197.8 682 197.9 684.1C198 686.3 197.6 688.4 198.5 690.3C199.5 692.2 201.6 694.4 203.6 695.6C205.7 696.8 208.4 697.2 210.8 697.2C213.2 697.2 216 696.8 217.9 695.6C219.9 694.4 221.6 692.2 222.4 690.3C223.2 688.4 222.6 686.3 222.6 684.1C222.7 682 222.6 678.6 222.5 677.5"/>
<path class="kw" d="M222.5 676.9A12.3 7.4 -3 1 1 198 678.1A12.3 7.4 -3 1 1 222.5 676.9Z"/>
<path class="kb" d="M216.6 677.2A7.4 4.3 0 1 1 201.9 677.2A7.4 4.3 0 1 1 216.6 677.2Z"/></g>
<path class="k2w" d="M197 626L197 636Q209.5 647 222 636L222 626Z"/>
<path class="k2w" d="M222 626A12.5 7 0 1 1 197 626A12.5 7 0 1 1 222 626Z"/>
<path class="kb" d="M216.5 626.5A7 3.8 0 1 1 202.5 626.5A7 3.8 0 1 1 216.5 626.5Z"/>
<path class="k" d="M197 630.5Q209.5 641 222 630.5"/>
<path class="kb" d="M203.4 566.5Q208.9 559.5 214.4 566.5L214.4 600.5L212.4 608.5Q208.9 611.5 205.4 608.5L203.4 600.5Z"/>
<path d="M207.4 570.5L211.9 570.5" stroke="#fff" stroke-width="1.2" fill="none"/>
<path d="M207.4 576.5L211.9 576.5" stroke="#fff" stroke-width="1.2" fill="none"/>
<path d="M207.4 582.5L211.9 582.5" stroke="#fff" stroke-width="1.2" fill="none"/>
<path d="M207.4 588.5L211.9 588.5" stroke="#fff" stroke-width="1.2" fill="none"/>
<path d="M207.4 594.5L211.9 594.5" stroke="#fff" stroke-width="1.2" fill="none"/>
<path d="M206.4 604.5L211.4 604.5" stroke="#fff" stroke-width="2" fill="none"/>
<path class="k2" style="fill:#555" d="M269.1 684L269.1 712.5L275.5 712.5L275.5 684Z"/>
<path class="h" d="M525.7 782.4L637.5 715.9"/>
<path class="hs" d="M637.5 715.9C639 714.9 643.3 711.4 646.5 709.8C649.8 708.3 652.3 707.2 657.1 706.8C661.9 706.5 672.2 707.6 675.2 707.7"/>
<path class="h" d="M675.2 707.7L759.8 721.9"/>
<path class="hs" d="M759.8 721.9C761.8 722.9 767.9 725.7 771.9 728C775.9 730.2 779.7 733.7 784 735.5C788.3 737.4 795.3 738.5 797.6 739.2"/>
<path class="h" d="M525.7 782.4L625.4 796.6"/>
<path class="h" d="M625.4 796.6L756.8 871.5"/>
<path class="h" d="M625.4 796.6L759.8 721.9"/>
<path class="hs" d="M613.3 783.9C609.5 783.1 596.9 780.6 590.6 779.3C584.3 778.1 578.7 777.5 575.5 776.3C572.4 775.2 571.7 773.9 571.9 772.4C572.2 770.9 576.2 768.1 577 767.3"/>
<path class="h" d="M577 767.3L651.1 720.4"/>
<path class="h" d="M651.1 720.4C652.6 719.8 655.1 717.5 660.1 716.8C665.2 716.1 671.7 715.7 681.3 716.2C690.8 716.7 710.9 718.7 717.5 719.8C724.2 720.9 721.4 721.6 721.1 722.8C720.9 724 716.9 726.4 716 727.1"/>
<path class="h" d="M716 727.1L657.1 758.2"/>
<path class="hs" d="M657.1 758.2C656.3 758.9 653.7 761 652.6 762.7C651.5 764.5 652.2 767.4 650.5 768.8C648.7 770.2 644.9 770.7 642 771.2C639.1 771.7 635.4 770.9 632.9 771.8C630.4 772.6 630.2 774.3 626.9 776.3C623.6 778.3 615.6 782.6 613.3 783.9"/>
<path class="hs" d="M656.8 764.8A2.1 2.7 0 1 1 652.6 764.8A2.1 2.7 0 1 1 656.8 764.8Z"/>
<path class="h" d="M525.7 782.4C525.9 784.6 526.7 791.2 527.2 796C527.7 800.7 527.3 805.5 528.7 811.1C530.1 816.6 533.8 823.1 535.6 829.2C537.5 835.2 539 840.3 539.9 847.3C540.7 854.4 540.6 867.5 540.8 871.5"/>
<path class="h" d="M610.3 866.9C609.3 863.2 605.7 851.3 604.2 844.3C602.7 837.2 601 829.2 601.2 824.7C601.5 820.1 602.5 818.6 605.7 817.1C609 815.6 615.8 814.3 620.8 815.6C625.9 816.8 631.9 820.9 636 824.7C640 828.4 642.5 833.5 645 838.2C647.5 843 649.5 848.6 651.1 853.4C652.6 858.1 653.6 864.7 654.1 866.9"/>
<path class="hd" d="M702.4 781.5A16.6 10 0 1 1 669.2 781.5A16.6 10 0 1 1 702.4 781.5Z"/>
<path class="hd" d="M736.6 811.1A14.5 8.2 0 1 1 707.6 811.1A14.5 8.2 0 1 1 736.6 811.1Z"/>
<path class="hd" d="M846.5 748.5A15.1 8.8 0 1 1 816.3 748.5A15.1 8.8 0 1 1 846.5 748.5Z"/>
<path class="h" d="M794.6 792.3C790.8 793.9 778.2 797.4 771.9 802C765.6 806.6 759.6 814.1 756.8 820.1C754 826.2 753.8 832.7 755.3 838.2C756.8 843.8 761.1 849.1 765.9 853.4C770.6 857.6 777.9 861.4 784 863.9C790 866.4 794.1 867.5 802.1 868.5C810.2 869.5 823.3 870.5 832.3 870C841.4 869.5 848.6 867.7 856.5 865.4C864.4 863.2 875.9 857.9 879.8 856.4"/>
<path class="h" d="M818.7 726.5L850.5 709.8"/>
<path class="h" d="M1119.7 660L1219.4 715.9"/>
<path class="hs" d="M1219.4 715.9L1220.9 756.7"/>
<path class="hs" d="M1220.9 756.7C1223.7 760.7 1233 771.8 1237.5 780.8C1242 789.9 1246.8 802 1248.1 811.1C1249.3 820.1 1247.8 828.2 1245.1 835.2C1242.3 842.3 1237.3 849.3 1231.5 853.4C1225.7 857.4 1218.4 856.4 1210.3 859.4C1202.3 862.4 1187.7 869.5 1183.1 871.5"/>
<path class="h" d="M1205.8 764.2C1209.1 768.5 1220.4 781.1 1225.4 789.9C1230.5 798.7 1234.2 808.5 1236 817.1C1237.8 825.7 1237.8 835.2 1236 841.3C1234.2 847.3 1227.2 851.3 1225.4 853.4"/>
<path class="h" d="M1217.9 731L977.7 868.5"/>
<path class="h" d="M1219.4 741.6L986.8 871.5"/>
<path class="hs" d="M1183.1 761.2L1183.1 799L1202.8 792.9"/>
<path class="hs" d="M1143.9 783.9L1143.9 817.1L1163.5 815.6"/>
<path class="hs" d="M1113.6 802L1113.6 835.2L1131.8 832.2"/>
<path class="hs" d="M1074.4 824.7L1074.4 862.4L1095.5 853.4"/>
<path class="hd" d="M1202.8 792.9C1204 791.7 1208.6 788.4 1210.3 785.4C1212.1 782.4 1212.8 776.6 1213.3 774.8"/>
<path class="h" d="M1137.8 735.5C1139.8 733 1144.9 732.5 1149.9 731C1154.9 729.5 1163 728.7 1168 726.5C1173.1 724.2 1176.1 719.4 1180.1 717.4C1184.1 715.4 1188.7 713.6 1192.2 714.4C1195.7 715.1 1200.3 718.9 1201.3 721.9C1202.3 725 1201.3 730.2 1198.2 732.5C1195.2 734.8 1186.9 734 1183.1 735.5C1179.4 737 1178.1 739.3 1175.6 741.6C1173.1 743.8 1172.3 747.4 1168 749.1C1163.8 750.9 1154.9 752.6 1149.9 752.1C1144.9 751.6 1139.8 748.9 1137.8 746.1C1135.8 743.3 1135.8 738 1137.8 735.5Z"/>
<path class="h" d="M1027.5 802C1029.3 799.7 1032.8 796.2 1038.1 794.4C1043.4 792.7 1049.7 796.2 1059.3 791.4C1068.8 786.6 1087.5 771.8 1095.5 765.7C1103.6 759.7 1102.6 756.9 1107.6 755.2C1112.6 753.4 1121.2 753.7 1125.7 755.2C1130.3 756.7 1134.3 761 1134.8 764.2C1135.3 767.5 1132.8 772.3 1128.8 774.8C1124.7 777.3 1115.2 777.3 1110.6 779.3C1106.1 781.3 1107.6 783.6 1101.6 786.9C1095.5 790.2 1080.7 795.4 1074.4 799C1068.1 802.5 1067.3 805.3 1063.8 808C1060.3 810.8 1058 814.3 1053.2 815.6C1048.4 816.8 1039.4 816.8 1035.1 815.6C1030.8 814.3 1028.8 810.3 1027.5 808C1026.3 805.8 1025.8 804.3 1027.5 802Z"/>
<path class="h" d="M914.3 871.5C915.8 869.5 918.3 861.9 923.3 859.4C928.4 856.9 934.9 860.7 944.5 856.4C954 852.1 972.7 839.8 980.7 833.7C988.8 827.7 987.8 822.9 992.8 820.1C997.8 817.4 1005.4 816.6 1010.9 817.1C1016.5 817.6 1023.5 820.6 1026 823.1C1028.6 825.7 1028.1 829.7 1026 832.2C1024 834.7 1018 836.7 1014 838.2C1009.9 839.8 1005.4 839.3 1001.9 841.3C998.3 843.3 1000.4 845.8 992.8 850.3C985.3 854.9 962.6 865.4 956.5 868.5"/>
<path class="hs" d="M982.2 687.2C984 685.2 988 678.1 992.8 675.1C997.6 672.1 1007.9 670.1 1010.9 669.1"/>
<path class="h" d="M983.7 720.4C988.8 723.4 1001.4 735 1014 738.5C1026.5 742.1 1045.7 743.1 1059.3 741.6C1072.9 740.1 1086.5 734.5 1095.5 729.5C1104.6 724.5 1110.4 716.9 1113.6 711.4C1116.9 705.8 1116.2 700.8 1115.2 696.3C1114.2 691.7 1108.9 686.2 1107.6 684.2"/>
<path class="h" d="M859.9 780.8C862.9 782.4 871 786.4 878 789.9C885 793.4 892.1 799.5 902.2 802C912.2 804.5 926.3 806 938.4 805C950.5 804 964.6 800.5 974.7 796C984.7 791.4 993.8 783.9 998.8 777.8C1003.9 771.8 1004.4 764.2 1004.9 759.7C1005.4 755.2 1002.4 752.1 1001.9 750.6"/>
<path class="hs" d="M878 688.7L908.2 678.1"/>
<path class="hs" d="M878 741.6L890.1 735.5"/>
<path class="h" d="M878 853.4C879.8 850.8 886.6 843.3 888.6 838.2C890.6 833.2 891.3 829.2 890.1 823.1C888.8 817.1 882.5 805.5 881 802"/>
<path class="hd" d="M959 687.2A14.5 8.5 0 1 1 930 687.2A14.5 8.5 0 1 1 959 687.2Z"/>
<path class="hs" d="M927.9 666.3L960.3 649.6"/>
<path class="h" d="M985.6 634.8L1022.4 618.1"/>
<path class="hs" d="M1043.4 617.3L1070 631.3"/>
<path class="hs" d="M988.3 680.3L1011 669.8"/>
<path class="hs" d="M1043.3 616.4L1070.4 631.3"/>
<path class="h" d="M1092.3 643.5L1160.5 682"/>
<g class="vv"><path class="kw" d="M831.5 842.5A24 15.5 0 1 1 783.5 842.5A24 15.5 0 1 1 831.5 842.5Z"/>
<path class="kw" d="M831.5 839.5A24 15.5 0 1 1 783.5 839.5A24 15.5 0 1 1 831.5 839.5Z"/>
<path d="M801.3 818.5C801.5 831.5 797.5 839.5 788.5 843.5L826.5 843.5C817.5 839.5 813.5 831.5 813.7 818.5Z" fill="#fff" stroke="none"/>
<path class="k" d="M801.3 818.5C801 829.5 798.5 836.5 790 840.5"/>
<path class="k" d="M813.7 818.5C814 829.5 816.5 836.5 825 840.5"/>
<path class="k" d="M823.5 845.7A17 8 0 0 1 791.5 845.7"/>
<path class="kw" d="M803 708.5L801.9 812.5L813.1 812.5L812 708.5Z"/>
<path class="kw" d="M801.2 812.5L801.2 818.5Q807.5 821 813.8 818.5L813.8 812.5Q807.5 815 801.2 812.5Z"/>
<path class="k2w" d="M802.7 710L802.7 702Q807.5 697 812.3 702L812.3 710Z"/>
<path class="k" d="M803 704L812 704M803 707.5L812 707.5"/></g>
<g class="vv"><path class="kw" d="M882.6 813.8A24 15.5 0 1 1 834.6 813.8A24 15.5 0 1 1 882.6 813.8Z"/>
<path class="kw" d="M882.6 810.8A24 15.5 0 1 1 834.6 810.8A24 15.5 0 1 1 882.6 810.8Z"/>
<path d="M852.4 789.8C852.6 802.8 848.6 810.8 839.6 814.8L877.6 814.8C868.6 810.8 864.6 802.8 864.8 789.8Z" fill="#fff" stroke="none"/>
<path class="k" d="M852.4 789.8C852.1 800.8 849.6 807.8 841.1 811.8"/>
<path class="k" d="M864.8 789.8C865.1 800.8 867.6 807.8 876.1 811.8"/>
<path class="k" d="M874.6 817A17 8 0 0 1 842.6 817"/>
<path class="kw" d="M854.1 679.8L853 783.8L864.2 783.8L863.1 679.8Z"/>
<path class="kw" d="M852.3 783.8L852.3 789.8Q858.6 792.3 864.9 789.8L864.9 783.8Q858.6 786.3 852.3 783.8Z"/>
<path class="k2w" d="M853.8 681.3L853.8 673.3Q858.6 668.3 863.4 673.3L863.4 681.3Z"/>
<path class="k" d="M854.1 675.3L863.1 675.3M854.1 678.8L863.1 678.8"/></g>
<g class="vv"><path class="kw" d="M941 780.5A24 15.5 0 1 1 893 780.5A24 15.5 0 1 1 941 780.5Z"/>
<path class="kw" d="M941 777.5A24 15.5 0 1 1 893 777.5A24 15.5 0 1 1 941 777.5Z"/>
<path d="M910.8 756.5C911 769.5 907 777.5 898 781.5L936 781.5C927 777.5 923 769.5 923.2 756.5Z" fill="#fff" stroke="none"/>
<path class="k" d="M910.8 756.5C910.5 767.5 908 774.5 899.5 778.5"/>
<path class="k" d="M923.2 756.5C923.5 767.5 926 774.5 934.5 778.5"/>
<path class="k" d="M933 783.7A17 8 0 0 1 901 783.7"/>
<path class="kw" d="M912.5 646.5L911.4 750.5L922.6 750.5L921.5 646.5Z"/>
<path class="kw" d="M910.7 750.5L910.7 756.5Q917 759 923.3 756.5L923.3 750.5Q917 753 910.7 750.5Z"/>
<path class="k2w" d="M912.2 648L912.2 640Q917 635 921.8 640L921.8 648Z"/>
<path class="k" d="M912.5 642L921.5 642M912.5 645.5L921.5 645.5"/></g>
<g class="vv"><path class="kw" d="M994.3 753.4A24 15.5 0 1 1 946.3 753.4A24 15.5 0 1 1 994.3 753.4Z"/>
<path class="kw" d="M994.3 750.4A24 15.5 0 1 1 946.3 750.4A24 15.5 0 1 1 994.3 750.4Z"/>
<path d="M964.1 729.4C964.3 742.4 960.3 750.4 951.3 754.4L989.3 754.4C980.3 750.4 976.3 742.4 976.5 729.4Z" fill="#fff" stroke="none"/>
<path class="k" d="M964.1 729.4C963.8 740.4 961.3 747.4 952.8 751.4"/>
<path class="k" d="M976.5 729.4C976.8 740.4 979.3 747.4 987.8 751.4"/>
<path class="k" d="M986.3 756.6A17 8 0 0 1 954.3 756.6"/>
<path class="kw" d="M965.8 619.4L964.7 723.4L975.9 723.4L974.8 619.4Z"/>
<path class="kw" d="M964 723.4L964 729.4Q970.3 731.9 976.6 729.4L976.6 723.4Q970.3 725.9 964 723.4Z"/>
<path class="k2w" d="M965.5 620.9L965.5 612.9Q970.3 607.9 975.1 612.9L975.1 620.9Z"/>
<path class="k" d="M965.8 614.9L974.8 614.9M965.8 618.4L974.8 618.4"/></g>
<g class="vv"><path class="kw" d="M1057 720A24 15.5 0 1 1 1009 720A24 15.5 0 1 1 1057 720Z"/>
<path class="kw" d="M1057 717A24 15.5 0 1 1 1009 717A24 15.5 0 1 1 1057 717Z"/>
<path d="M1026.8 696C1027 709 1023 717 1014 721L1052 721C1043 717 1039 709 1039.2 696Z" fill="#fff" stroke="none"/>
<path class="k" d="M1026.8 696C1026.5 707 1024 714 1015.5 718"/>
<path class="k" d="M1039.2 696C1039.5 707 1042 714 1050.5 718"/>
<path class="k" d="M1049 723.2A17 8 0 0 1 1017 723.2"/>
<path class="kw" d="M1028.5 586L1027.4 690L1038.6 690L1037.5 586Z"/>
<path class="kw" d="M1026.7 690L1026.7 696Q1033 698.5 1039.3 696L1039.3 690Q1033 692.5 1026.7 690Z"/>
<path class="k2w" d="M1028.2 587.5L1028.2 579.5Q1033 574.5 1037.8 579.5L1037.8 587.5Z"/>
<path class="k" d="M1028.5 581.5L1037.5 581.5M1028.5 585L1037.5 585"/></g>
<g class="vv"><path class="kw" d="M1104.5 694.3A24 15.5 0 1 1 1056.5 694.3A24 15.5 0 1 1 1104.5 694.3Z"/>
<path class="kw" d="M1104.5 691.3A24 15.5 0 1 1 1056.5 691.3A24 15.5 0 1 1 1104.5 691.3Z"/>
<path d="M1074.3 670.3C1074.5 683.3 1070.5 691.3 1061.5 695.3L1099.5 695.3C1090.5 691.3 1086.5 683.3 1086.7 670.3Z" fill="#fff" stroke="none"/>
<path class="k" d="M1074.3 670.3C1074 681.3 1071.5 688.3 1063 692.3"/>
<path class="k" d="M1086.7 670.3C1087 681.3 1089.5 688.3 1098 692.3"/>
<path class="k" d="M1096.5 697.5A17 8 0 0 1 1064.5 697.5"/>
<path class="kw" d="M1076 560.3L1074.9 664.3L1086.1 664.3L1085 560.3Z"/>
<path class="kw" d="M1074.2 664.3L1074.2 670.3Q1080.5 672.8 1086.8 670.3L1086.8 664.3Q1080.5 666.8 1074.2 664.3Z"/>
<path class="k2w" d="M1075.7 561.8L1075.7 553.8Q1080.5 548.8 1085.3 553.8L1085.3 561.8Z"/>
<path class="k" d="M1076 555.8L1085 555.8M1076 559.3L1085 559.3"/></g>
<path class="h" d="M669.4 430.9L966.4 264.6"/>
<path class="hs" d="M669.4 430.9L670.3 437.9L675.5 441.4"/>
<path class="hs" d="M669.4 438.8C667.2 439.9 659.5 443.4 656.3 445.8C653 448.1 651.4 450.1 650.1 452.8C648.8 455.4 648.7 460 648.4 461.5"/>
<path class="h" d="M648.4 461.5L648.4 486"/>
<path class="h" d="M675.5 441.4L717.5 418.6"/>
<path class="hs" d="M717.5 411.6C719.3 411.5 724.5 410 728 410.8C731.5 411.5 734.4 415 738.5 416C742.6 417 748.6 417.5 752.5 416.9C756.4 416.3 759.9 414.4 762.1 412.5C764.3 410.6 765.3 408 765.6 405.5C765.9 403 765.2 399.8 763.9 397.6C762.6 395.4 758.9 393.6 757.8 392.4C756.6 391.1 757 390.5 756.9 390.1"/>
<path class="hs" d="M717.5 418.6C719.3 418.5 724.4 417.1 728 417.8C731.7 418.4 735.3 421.7 739.4 422.7C743.5 423.6 748.6 424 752.5 423.4C756.4 422.7 760.7 420.9 763 418.6C765.3 416.4 765.9 411.3 766.5 409.9"/>
<path class="hs" d="M756.9 390.1L763 386.6"/>
<path class="h" d="M759.5 391.5L826 351.1"/>
<path class="hs" d="M754.3 404.1A8.8 5.3 0 1 1 736.8 404.1A8.8 5.3 0 1 1 754.3 404.1Z"/>
<path class="hd" d="M803.3 434.4A17.5 10.5 0 1 1 768.3 434.4A17.5 10.5 0 1 1 803.3 434.4Z"/>
<path class="hs" d="M753.4 467.6A20.1 11.4 0 0 1 713.1 467.6"/>
<path class="hs" d="M713.1 462.4L713.1 467.6"/>
<path class="hs" d="M753.4 462.4L753.4 467.6"/>
<path class="hs" d="M753.4 462.4A20.1 11.4 0 1 1 713.1 462.4A20.1 11.4 0 1 1 753.4 462.4Z"/>
<path class="hs" d="M741.5 461A9.1 5.6 0 1 1 723.3 461A9.1 5.6 0 1 1 741.5 461Z"/>
<path class="h" d="M659.8 496.5L660.6 465"/>
<path class="hs" d="M660.6 465C661.2 463.8 662.2 459.5 664.1 458C666 456.5 669.2 455.7 672 456.3C674.8 456.8 678.4 458.9 680.8 461.5C683.1 464.1 685.1 470.3 686 472"/>
<path class="h" d="M686 472L686.9 512.3"/>
<path class="hs" d="M659.8 496.5L686 514L691.3 512.3L691.3 502.6"/>
<path class="hs" d="M679.8 473.9A6.3 8.4 -15 1 1 667.7 477.1A6.3 8.4 -15 1 1 679.8 473.9Z"/>
<path class="h" d="M689.5 469.4L742 500"/>
<path class="h" d="M842.8 412.9C836.8 416.1 816.6 427.3 806.8 432.6C797 438 790.1 441.4 784 444.9C777.9 448.4 774.1 450.3 770 453.6C765.9 457 762 460.8 759.5 465C757 469.2 755.7 474.3 755.1 479C754.5 483.7 755.9 490.7 756 493"/>
<path class="h" d="M787.5 459.8L805 451L1012.7 332L1052.8 311"/>
<path class="hs" d="M770 459.8L786.6 453.6"/>
<path class="hs" d="M787.5 459.8C785.5 460.9 778.5 464.1 775.3 466.8C772 469.4 769.7 472 768.3 475.5C766.8 479 765.9 484 766.5 487.8C767.1 491.5 769.7 495.8 771.8 498.3C773.8 500.7 776.6 502.3 778.8 502.6C780.9 502.9 783.4 501.3 784.9 500C786.3 498.8 785.3 496.5 787.5 495.1C789.7 493.7 793.9 492.3 798 491.6C802.1 490.9 807.9 490.1 812 490.9C816.1 491.7 820.3 494.1 822.5 496.5C824.7 498.9 825.4 502.6 825.1 505.3C824.8 507.9 823.5 510.4 820.8 512.3C818 514.2 810.6 515.9 808.5 516.6"/>
<path class="hs" d="M806.8 519.3C808.8 518.7 815.8 517.9 819 516.1C822.2 514.4 824.8 510 826 508.8"/>
<path class="hs" d="M814.6 500.9A9.6 5.6 0 1 1 795.4 500.9A9.6 5.6 0 1 1 814.6 500.9Z"/>
<path class="hs" d="M791.6 484.7A26.3 15.4 0 1 1 830 481.7"/>
<path class="hd" d="M830 481.7A26.3 15.4 0 0 1 791.6 484.7"/>
<path class="hs" d="M786.7 477.5A22.4 11.6 0 0 1 831.3 477.5"/>
<path class="hs" d="M796.5 485.3A14.9 8.1 0 1 1 822.3 485.3"/>
<path class="hs" d="M822.3 485.3A14.9 8.1 0 0 1 796.5 485.3"/>
<path class="hs" d="M864.5 394.1C863.6 393.3 862.2 390.3 859.3 388.9C856.3 387.4 851.4 385.7 847 385.4C842.6 385.1 836.7 385.7 833 387.1C829.4 388.6 826.6 391.5 825.1 394.1C823.7 396.8 823.5 400.4 824.3 402.9C825 405.4 826.9 407.4 829.5 409C832.1 410.6 837.7 412.2 840 412.5C842.3 412.8 842.9 411 843.5 410.8"/>
<path class="hs" d="M824.3 404.6C825.4 405.9 828.3 410.7 831.3 412.5C834.2 414.3 839.7 415.6 841.8 415.5C843.9 415.4 843.5 412.6 843.9 412"/>
<path class="hs" d="M864.5 394.1C865.7 394.4 869.2 396 871.5 395.9C873.8 395.7 877.3 393.7 878.5 393.3"/>
<path class="hs" d="M854 396.8A9.6 6 0 1 1 834.8 396.8A9.6 6 0 1 1 854 396.8Z"/>
<path class="h" d="M878.5 393.3L916.5 371.4"/>
<path class="h" d="M978.6 263.8L1030.3 236.6"/>
<path class="h" d="M869.3 330.3L941 289.1"/>
<path class="hs" d="M867.5 327.6L869.3 332"/>
<path class="hs" d="M938.4 286.2C940 286 944.7 284.5 948 285.1C951.4 285.7 954.4 289 958.5 290C962.6 291 968.4 291.5 972.5 290.9C976.6 290.3 980.7 288.4 983 286.5C985.3 284.6 986.2 282.1 986.5 279.5C986.8 276.9 986.1 273.2 984.8 270.8C983.4 268.3 979.7 265.6 978.6 264.6"/>
<path class="hs" d="M941 289.1C942.6 289 947.4 287.9 950.6 288.6C953.8 289.3 956.6 292.5 960.3 293.5C963.9 294.6 968.7 295.3 972.5 294.9C976.3 294.5 980.5 293 983 290.9C985.5 288.7 986.7 283.6 987.4 282.1"/>
<path class="hs" d="M975.7 276.4A8.8 5.3 0 1 1 958.2 276.4A8.8 5.3 0 1 1 975.7 276.4Z"/>
<path class="hs" d="M868.4 329.4C869.4 330.4 873.5 332.9 874.5 335.5C875.5 338.1 875.7 342.3 874.5 345.1C873.3 348 870.7 350.9 867.5 352.7C864.3 354.4 859.3 355.3 855.3 355.6C851.2 355.9 847.1 355.4 843 354.4C838.9 353.4 834.2 350.5 830.7 349.5C827.2 348.5 823.5 348.8 822 348.6"/>
<path class="hs" d="M874.5 342.5C874.2 344.3 874.5 350.3 872.8 353C871 355.7 867.8 357.4 864 358.6C860.2 359.8 854.1 359.9 850 360C845.9 360.1 843 359.9 839.5 359.1C836 358.4 831.6 356.3 829 355.6C826.4 355 824.6 355.2 823.7 355.1"/>
<path class="hs" d="M864.5 340.8A8.4 5.1 0 1 1 847.7 340.8A8.4 5.1 0 1 1 864.5 340.8Z"/>
<path class="hs" d="M1032 234.9C1033.8 234.2 1038.7 231.7 1042.5 230.9C1046.3 230 1051.1 229.3 1054.8 229.6C1058.4 229.9 1061.3 231 1064.2 232.6C1067.1 234.2 1070.5 237 1072.1 239.3C1073.7 241.5 1074.3 244.2 1073.8 246.3C1073.4 248.3 1070.2 250.6 1069.5 251.5"/>
<path class="hs" d="M1032 234.9C1031.7 236.2 1030.1 240 1030.3 242.8C1030.4 245.5 1030.8 249 1032.9 251.5C1034.9 254 1039.7 256.3 1042.5 257.6C1045.3 258.9 1048.3 259.1 1049.5 259.4"/>
<path class="hs" d="M1049.5 259.4C1048.8 260.1 1046 261.6 1045 263.8C1043.9 265.9 1042.6 269.9 1043.2 272.5C1043.8 275.1 1045.5 277.9 1048.5 279.5C1051.4 281.1 1056.6 282 1060.7 282.1C1064.8 282.3 1070.2 281.4 1073 280.4C1075.7 279.4 1076.5 278.8 1077.3 276C1078.2 273.2 1078.1 265.8 1078.2 263.8"/>
<path class="hs" d="M1031.1 246.3C1031.9 247.7 1033.3 252.4 1035.5 255C1037.7 257.6 1042.8 260.5 1044.3 261.7"/>
<path class="hs" d="M1043.2 276C1044.4 277.3 1047 282.1 1050.2 283.9C1053.4 285.6 1058.2 286.5 1062.5 286.5C1066.7 286.5 1073.4 284.3 1075.6 283.9"/>
<path class="hs" d="M1060.9 243.6A9.6 6.5 0 1 1 1041.6 243.6A9.6 6.5 0 1 1 1060.9 243.6Z"/>
<path class="hs" d="M1070.2 269.9A8.4 5.3 0 1 1 1053.4 269.9A8.4 5.3 0 1 1 1070.2 269.9Z"/>
<path class="hd" d="M1024 304.7A17.5 10.9 0 1 1 1013.5 298.2"/>
<path class="hd" d="M913 367.1A18.4 10.2 0 1 1 902.7 361.8"/>
<path class="hs" d="M976 332C975.1 331.1 973.7 328.2 970.8 326.8C967.8 325.3 962.9 323.5 958.5 323.3C954.1 323 948.2 323.5 944.5 325C940.9 326.5 938.1 329.4 936.6 332C935.2 334.6 935 338.3 935.8 340.8C936.5 343.2 938.4 345.3 941 346.9C943.6 348.5 949.2 350.1 951.5 350.4C953.8 350.7 954.4 348.9 955 348.6"/>
<path class="hs" d="M935.8 342.5C936.9 343.8 939.8 348.6 942.8 350.4C945.7 352.2 951.2 353.4 953.3 353.4C955.4 353.3 955 350.4 955.4 349.9"/>
<path class="hs" d="M976 332C977.2 332.3 980.7 333.9 983 333.8C985.3 333.6 988.8 331.6 990 331.1"/>
<path class="hs" d="M965.5 334.6A9.6 6 0 1 1 946.3 334.6A9.6 6 0 1 1 965.5 334.6Z"/>
<path class="h" d="M954.3 350.4L916.5 371.4"/>
<path class="h" d="M990 331.1L1035.5 305.8"/>
<path class="hs" d="M1014.3 358.7A26.3 15.4 0 1 1 1052.6 355.7"/>
<path class="hd" d="M1052.6 355.7A26.3 15.4 0 0 1 1014.3 358.7"/>
<path class="hs" d="M1009.3 351.5A22.4 11.6 0 0 1 1054 351.5"/>
<path class="hs" d="M1019.1 359.3A14.9 8.1 0 1 1 1044.9 359.3"/>
<path class="hs" d="M1044.9 359.3A14.9 8.1 0 0 1 1019.1 359.3"/>
<path class="h" d="M1075.6 249.8L1132.5 285.6L1178 309.3L1216.5 334.6"/>
<path class="hs" d="M1216.5 334.6C1218.3 334 1223.5 331 1227 331.1C1230.5 331.3 1234.6 332.7 1237.5 335.5C1240.4 338.3 1242.9 343.7 1244.5 347.8C1246.1 351.8 1246.7 355.6 1247.1 360C1247.6 364.4 1247.1 371.7 1247.1 374"/>
<path class="hs" d="M1068.6 253.3C1069.2 254 1070.4 256.3 1072.1 257.6C1073.9 258.9 1078 260.5 1079.1 261.1"/>
<path class="hs" d="M1038 302.3C1041.5 300.1 1050.3 292.2 1059 289.1C1067.8 286.1 1080.3 284.6 1090.5 283.9C1100.7 283.1 1112.7 283.9 1120.3 284.8C1127.8 285.6 1132.9 287.1 1136 289.1C1139.1 291.2 1138.6 295 1138.6 297C1138.6 299 1138.2 300.2 1136 301.4C1133.8 302.5 1128.6 302.4 1125.5 304C1122.4 305.6 1119.1 308.7 1117.6 311C1116.2 313.3 1116 315.7 1116.8 318C1117.5 320.3 1119.4 323.3 1122 325C1124.6 326.8 1128.4 328.4 1132.5 328.5C1136.6 328.7 1143 327 1146.5 325.9C1150 324.7 1151.5 323.3 1153.5 321.5C1155.5 319.8 1156.4 316.7 1158.8 315.4C1161.1 314.1 1164.6 312.9 1167.5 313.6C1170.4 314.4 1174.5 316.7 1176.3 319.8C1178 322.8 1178.6 327.6 1178 332C1177.4 336.4 1175.7 341.6 1172.8 346C1169.8 350.4 1164.9 354.5 1160.5 358.3C1156.1 362 1150.3 366.9 1146.5 368.8C1142.7 370.7 1139.9 370.2 1137.8 369.6C1135.6 369 1134.3 367 1133.4 365.3C1132.5 363.5 1132.7 360.2 1132.5 359.1"/>
<path class="hs" d="M1062.5 297C1067.2 296 1081.5 291.8 1090.5 290.9C1099.5 290 1110 290.7 1116.8 291.8C1123.5 292.8 1128 295.4 1130.8 297C1133.5 298.6 1132.9 300.6 1133.4 301.4"/>
<path class="hs" d="M1052.9 311C1056.2 309 1065.3 301.4 1073 298.8C1080.7 296.1 1091.1 295.4 1099.3 295.3C1107.4 295.1 1118.2 297.4 1122 297.9"/>
<path class="hs" d="M1118.5 319.8C1119.7 321.1 1122.6 325.8 1125.5 327.6C1128.4 329.4 1131.9 330.7 1136 330.6C1140.1 330.5 1146.8 328.5 1150 327.1C1153.2 325.7 1154.4 323.2 1155.3 322.4"/>
<path class="hs" d="M1146.5 314.5A9.6 6 0 1 1 1127.3 314.5A9.6 6 0 1 1 1146.5 314.5Z"/>
<path class="hs" d="M1178 309.3C1179.5 310.7 1184.7 314.2 1186.8 318C1188.8 321.8 1189.1 328.2 1190.3 332C1191.4 335.8 1191.4 339 1193.8 340.8C1196.1 342.5 1200.5 343.4 1204.3 342.5C1208.1 341.6 1214.5 336.7 1216.5 335.5"/>
<path class="hs" d="M1062.3 327.2A26.3 15.4 0 1 1 1100.6 324.2"/>
<path class="hd" d="M1100.6 324.2A26.3 15.4 0 0 1 1062.3 327.2"/>
<path class="hs" d="M1057.3 320A22.4 11.6 0 0 1 1102 320"/>
<path class="hs" d="M1067.1 327.8A14.9 8.1 0 1 1 1092.9 327.8"/>
<path class="hs" d="M1092.9 327.8A14.9 8.1 0 0 1 1067.1 327.8"/>
<path class="wf" d="M1095.8 372.3L1076.5 360L1064.3 353L1059 342.5L1060.8 333.8L1069.5 331.1L1083.5 332L1095.8 336.4L1132.5 358.3L1132.5 372.3Z"/>
<path class="hs" d="M1095.8 372.3C1092.5 370.2 1081.8 363.2 1076.5 360C1071.3 356.8 1067.2 355.9 1064.3 353C1061.3 350.1 1059.6 345.7 1059 342.5C1058.4 339.3 1059 335.7 1060.8 333.8C1062.5 331.9 1065.7 331.4 1069.5 331.1C1073.3 330.8 1079.1 331.1 1083.5 332C1087.9 332.9 1093.7 335.7 1095.8 336.4"/>
<path class="h" d="M1095.8 336.4L1132.5 358.3"/>
<path class="hs" d="M1084.8 342.3L1081.4 345.2L1076.3 344.6L1074.5 341L1077.9 338L1083 338.7Z"/>
<path class="hs" d="M1122.9 365.3A9.6 5.6 0 1 1 1103.6 365.3A9.6 5.6 0 1 1 1122.9 365.3Z"/>
<path class="hs" d="M1174.5 360.9L1195.5 370.5"/>
<path class="hs" d="M1195.5 368.8C1200.2 369 1215.1 372 1223.5 370.5C1232 369 1242.5 361.8 1246.3 360"/>
<path class="hs" d="M903.1 421.7A26.3 15.4 0 1 1 941.5 418.7"/>
<path class="hd" d="M941.5 418.7A26.3 15.4 0 0 1 903.1 421.7"/>
<path class="hs" d="M898.2 414.5A22.4 11.6 0 0 1 942.8 414.5"/>
<path class="hs" d="M908 422.3A14.9 8.1 0 1 1 933.8 422.3"/>
<path class="hs" d="M933.8 422.3A14.9 8.1 0 0 1 908 422.3"/>
<path class="hs" d="M952.1 394.5A26.3 15.4 0 1 1 990.5 391.6"/>
<path class="hd" d="M990.5 391.6A26.3 15.4 0 0 1 952.1 394.5"/>
<path class="hs" d="M947.2 387.3A22.4 11.6 0 0 1 991.8 387.3"/>
<path class="hs" d="M957 395.2A14.9 8.1 0 1 1 982.8 395.2"/>
<path class="hs" d="M982.8 395.2A14.9 8.1 0 0 1 957 395.2"/>
<path class="hs" d="M840.1 455.8A26.3 15.4 0 1 1 878.5 452.8"/>
<path class="hd" d="M878.5 452.8A26.3 15.4 0 0 1 840.1 455.8"/>
<path class="hs" d="M835.2 448.6A22.4 11.6 0 0 1 879.8 448.6"/>
<path class="hs" d="M845 456.4A14.9 8.1 0 1 1 870.8 456.4"/>
<path class="hs" d="M870.8 456.4A14.9 8.1 0 0 1 845 456.4"/>
<path class="hs" d="M936.3 448A20.7 11.6 0 0 1 895 448"/>
<path class="hs" d="M895 443.1L895 448"/>
<path class="hs" d="M936.3 443.1L936.3 448"/>
<path class="hs" d="M936.3 443.1A20.7 11.6 0 1 1 895 443.1A20.7 11.6 0 1 1 936.3 443.1Z"/>
<path class="hs" d="M924.9 440.7A10.2 6 0 1 1 904.6 440.7A10.2 6 0 1 1 924.9 440.7Z"/>
<path class="hd" d="M920.9 441.4A6.1 3.5 0 1 1 908.6 441.4A6.1 3.5 0 1 1 920.9 441.4Z"/>
<path class="hs" d="M1048.3 386.3A20.7 11.6 0 0 1 1007 386.3"/>
<path class="hs" d="M1007 381.4L1007 386.3"/>
<path class="hs" d="M1048.3 381.4L1048.3 386.3"/>
<path class="hs" d="M1048.3 381.4A20.7 11.6 0 1 1 1007 381.4A20.7 11.6 0 1 1 1048.3 381.4Z"/>
<path class="hs" d="M1036.9 378.9A10.2 6 0 1 1 1016.6 378.9A10.2 6 0 1 1 1036.9 378.9Z"/>
<path class="hd" d="M1032.9 379.6A6.1 3.5 0 1 1 1020.6 379.6A6.1 3.5 0 1 1 1032.9 379.6Z"/>
<path class="wf" d="M989.1 456.3L988.3 445.8L985.6 437L979.5 430L962 419.5L952.4 410.8L950.6 402L954.1 395L963.8 392.9L976 394.1L988.3 399.4L1023.3 424.8L1026.8 430L1008.4 447.5L990 456.3Z"/>
<path class="hs" d="M989.1 456.3C989 454.5 988.8 449 988.3 445.8C987.7 442.5 987.1 439.6 985.6 437C984.2 434.4 983.4 432.9 979.5 430C975.6 427.1 966.5 422.7 962 419.5C957.5 416.3 954.3 413.7 952.4 410.8C950.5 407.8 950.3 404.6 950.6 402C950.9 399.4 951.9 396.5 954.1 395C956.3 393.5 960.1 393 963.8 392.9C967.4 392.8 971.9 393 976 394.1C980.1 395.2 986.2 398.5 988.3 399.4"/>
<path class="h" d="M988.3 399.4L1023.3 424.8"/>
<path class="hs" d="M1023.3 424.8C1023.8 425.6 1025 428.8 1026.8 430C1028.5 431.2 1031.1 432 1033.8 431.8C1036.4 431.5 1041.1 428.8 1042.5 428.3"/>
<path class="h" d="M1042.5 428.3L1070 413.4"/>
<path class="hs" d="M975.1 405.2A7 3.9 0 1 1 961.1 405.2A7 3.9 0 1 1 975.1 405.2Z"/>
<path class="hs" d="M1014.5 428.3A9.6 6 0 1 1 995.3 428.3A9.6 6 0 1 1 1014.5 428.3Z"/>
<path class="hs" d="M984.8 433.5C986.5 434.2 991.6 436.9 995.3 437.9C998.9 438.9 1004.2 438.8 1006.6 439.6C1009.1 440.5 1009.8 441.8 1010.1 443.1C1010.4 444.4 1008.7 446.8 1008.4 447.5"/>
<path class="hs" d="M1008.4 447.5L990 456.3"/>
<path class="wf" d="M877.1 519.3L874.5 505.3L867.5 494.8L855.3 486L850 477.3L846.5 468.5L849.1 461.5L857 458.4L867.5 460.6L907.8 484.3L912.1 491.3L918.3 494.8L892 514L877.1 520.1Z"/>
<path class="hs" d="M877.1 519.3C876.7 516.9 876.1 509.3 874.5 505.3C872.9 501.2 870.7 498 867.5 494.8C864.3 491.5 858.2 488.9 855.3 486C852.3 483.1 851.5 480.2 850 477.3C848.5 474.3 846.6 471.1 846.5 468.5C846.4 465.9 847.4 463.2 849.1 461.5C850.9 459.8 853.9 458.5 857 458.4C860.1 458.2 865.8 460.3 867.5 460.6"/>
<path class="h" d="M867.5 460.6L907.8 484.3"/>
<path class="hs" d="M907.8 484.3C908.5 485.4 910.4 489.5 912.1 491.3C913.9 493 915.8 494.6 918.3 494.8C920.7 494.9 925.5 492.6 927 492.1"/>
<path class="h" d="M927 492.1L998.8 455.4"/>
<path class="hs" d="M863.1 468A6.1 3.5 0 1 1 850.9 468A6.1 3.5 0 1 1 863.1 468Z"/>
<path class="hs" d="M902.2 490A10.5 6.1 0 1 1 881.2 490A10.5 6.1 0 1 1 902.2 490Z"/>
<path class="hs" d="M876.3 498.3C878.1 499 884.1 501.8 887.6 502.6C891.1 503.5 895.4 502.6 897.3 503.5C899.1 504.4 899.5 506.1 898.7 507.9C897.8 509.6 893.1 513 892 514"/>
<path class="hs" d="M892 514L877.1 520.1"/>
<path class="h" d="M881.5 528L948 494.8L990 471.7"/>
<path class="hs" d="M990 471.7C990.9 471.3 993.8 469.7 995.3 469.4C996.7 469.1 998.2 469.8 998.8 469.9"/>
<path class="hs" d="M998.8 455.4C999 456.4 999.6 459.3 1000.2 461.5C1000.7 463.7 1001.6 467.3 1001.9 468.5"/>
<path class="h" d="M1002.3 462.4L1070 424.8"/>
<path class="hs" d="M1001.9 465L1018 474.6"/>
<path class="hs" d="M1018 474.6C1018.9 475.1 1022.2 475.4 1023.3 477.3C1024.4 479.2 1024.4 484.5 1024.7 486"/>
<path class="h" d="M1024.7 486L1025 528"/>
<path class="h" d="M1017.1 473.8L972.5 528"/>
<path class="h" d="M1038 430.9L1071.3 415.1L1117.6 385.4"/>
<path class="hs" d="M1117.6 385.4C1117.7 384.4 1118.6 381.1 1118.2 379.3C1117.7 377.4 1115.5 374.9 1115 374"/>
<path class="h" d="M1038 440.2L1151.8 374"/>
<path class="hs" d="M1095.8 374L1097.5 393.3"/>
<path class="h" d="M1247.1 360C1247 366.1 1246.3 386.8 1246.3 396.8C1246.3 406.7 1247.4 413.4 1247.1 419.5C1246.8 425.6 1246.4 429.1 1244.5 433.5C1242.6 437.9 1239.6 442.3 1235.8 445.8C1232 449.3 1224.1 453 1221.8 454.5"/>
<path class="h" d="M1221.8 454.5L1090.5 528"/>
<path class="hs" d="M1195.5 374C1194.6 374.4 1191.7 374.8 1190.3 376.1C1188.8 377.4 1187.3 380.9 1186.8 381.9"/>
<path class="h" d="M1186.8 381.9L1185.9 451"/>
<path class="h" d="M1228.8 416A14.9 24.2 28 1 1 1202.5 402A14.9 24.2 28 1 1 1228.8 416Z"/>
<path class="hs" d="M1185.9 451L1181.5 457.1"/>
<path class="hs" d="M1181.5 457.1L1136 479.9"/>
<path class="hs" d="M1136 479.9C1135.3 479.4 1132.8 480.9 1131.6 477.3C1130.5 473.6 1129.9 463.3 1129 458C1128.1 452.8 1127.8 449 1126.4 445.8C1124.9 442.5 1123.3 440.6 1120.3 438.8C1117.2 436.9 1110 435.1 1108 434.4"/>
<path class="hs" d="M1108 434.4L1071.3 423"/>
<path class="hs" d="M1071.3 423L1083.5 431.8"/>
<path class="hs" d="M1090.5 432.6C1089 433.1 1084.1 433.4 1081.8 435.3C1079.4 437.1 1077.7 439 1076.5 444C1075.3 449 1075 461.5 1074.8 465"/>
<path class="h" d="M1074.8 465L1075.6 514"/>
<path class="hs" d="M1075.6 514C1074.6 514.9 1072.9 517.1 1069.5 519.3C1066.1 521.4 1057.8 525.8 1055.5 527.1"/>
<path class="h" d="M1117.6 478.1A14.9 24.2 28 1 1 1091.4 464.1A14.9 24.2 28 1 1 1117.6 478.1Z"/>
<path class="h" d="M876.3 647.9L1070 541.1"/>
<path class="h" d="M879.8 629.5L962 584"/>
<path class="h" d="M962 584C962.9 582.8 966.4 580.5 967.6 577C968.8 573.5 969 568.3 969.4 563C969.7 557.8 969.4 550.5 969.9 545.5C970.4 540.5 971.3 536.5 972.5 533.3C973.7 530 976.2 527.4 976.9 526.2"/>
<path class="hs" d="M850 642.6C852.9 643.7 863.1 647.9 867.5 648.8C871.9 649.6 874.8 648 876.3 647.9"/>
<path class="hs" d="M875.4 631.3L875.4 647"/>
<path class="hs" d="M862.3 595.4C862.5 598.1 862.8 606.9 864 612C865.2 617.1 867.4 622.8 869.3 626C871.1 629.2 874.4 630.4 875.4 631.3"/>
<path class="hs" d="M850 601.5L878.9 587.5"/>
<path class="h" d="M1008.9 537.9A15.4 26.3 28 1 1 981.7 523.4A15.4 26.3 28 1 1 1008.9 537.9Z"/>
<path class="hs" d="M1025 517.5C1025 521 1024.1 534.1 1025 538.5C1025.9 542.9 1029.4 542.9 1030.3 543.8"/>
<path class="hs" d="M1030.3 543.8L1070 524.5"/>
<path class="hs" d="M648.4 486.3C648 487.6 646.2 491.5 646.1 494.1C646 496.8 646.8 500.1 647.5 502C648.2 503.9 649.8 502.3 650.1 505.5C650.4 508.7 649 516.9 649.3 521.3C649.5 525.6 650.7 528.8 651.9 531.8C653 534.7 655.5 537.6 656.3 538.8"/>
<path class="h" d="M656.3 538.8L784 614"/>
<path class="h" d="M662.4 548.4L777 614"/>
<path class="hs" d="M656.3 538.8C656.7 539.6 657.9 542.4 658.9 544C659.9 545.6 661.8 547.7 662.4 548.4"/>
<path class="h" d="M742 501.1L794.5 530L836.5 550.1"/>
<path class="hs" d="M836.5 550.1C838 551.4 843.2 554.7 845.3 558C847.3 561.4 848 566.2 848.8 570.3C849.5 574.3 849.5 580.5 849.6 582.5"/>
<path class="hs" d="M742 501.1C741.6 502.1 740 504.5 739.4 507.3C738.8 510 738.7 516 738.5 517.8"/>
<path class="hs" d="M738.5 517.8L738.5 540.5L752.5 548.4"/>
<path class="h" d="M752.5 548.4L782.3 611.4"/>
<path class="hs" d="M758.6 530.9C758.6 530.3 757.9 528.5 758.6 527.4C759.4 526.2 761.1 524.3 763 523.9C764.9 523.4 768.8 524.6 770 524.8"/>
<path class="hs" d="M770 524.8L826 557.1L833.9 577.3"/>
<path class="hs" d="M833.9 577.3C833.4 578.4 834.9 580.2 831.3 584.3C827.6 588.3 817 598.2 812 601.8C807.1 605.3 805.3 606.5 801.5 605.6C797.7 604.7 791.3 598 789.3 596.5"/>
<path class="h" d="M789.3 596.5L758.6 530.9"/>
<path class="hs" d="M754 515.5L751.3 519.5L747.2 518.6L745.7 513.7L748.4 509.7L752.6 510.6Z"/>
<path class="hs" d="M843.3 566.8L840.6 570.8L836.4 569.9L835 565L837.7 560.9L841.8 561.9Z"/>
<path class="hs" d="M782.3 612C783 613.2 784 617.1 786.6 619C789.3 620.9 794.9 623.1 798 623.4C801.1 623.7 803.8 621.2 805 620.8"/>
<path class="hd" d="M805 620.8L824.3 609.4"/>
<path class="hs" d="M824.3 609.4C826.3 607.2 832.2 597.3 836.5 596.3C840.8 595.2 847.7 602.1 850 603.3"/>
<path class="hs" d="M795.1 612L792.4 616.1L788.3 615.2L786.9 610.2L789.6 606.2L793.7 607.1Z"/>
<path class="hs" d="M785.8 618.1L824.3 640"/>
<path class="h" d="M824.3 640C826.3 640.5 832.2 642.4 836.5 643.2C840.8 643.9 845.3 644.3 850 644.4C854.7 644.5 862.1 643.9 864.5 643.9"/>
<path class="hs" d="M798 623.4L824.3 632.1"/>
<path class="hs" d="M825.1 609.4L825.1 640"/>
<path class="h" d="M807.3 517.8C809.6 518.5 814.5 520.8 821.3 522.1C828 523.4 838.8 525.9 847.5 525.6C856.3 525.3 865.6 522.6 873.8 520.4C881.9 518.2 889.2 515.6 896.5 512.5C903.8 509.4 911.1 505.9 917.5 502C923.9 498.1 932.1 491.1 935 488.9"/>
<path class="hs" d="M829.1 535.3C832.8 535.6 844.4 537.4 851 537.4C857.6 537.3 863.4 536.4 868.5 534.9C873.6 533.4 879.3 529.7 881.5 528.6"/>
<path class="m" d="M828.6 533.9L882.5 530"/>
<path class="hs" d="M829.1 535.3C830.7 536.4 835.1 540.1 838.8 542.3C842.4 544.4 849 547.4 851 548.4"/>
<path class="td" d="M112.5 327L22.7 379.5L198.3 480.3L358.3 389L519.8 482.2L487 500.4"/>
<path class="t" d="M150 305.7L190 282.9"/>
<path class="t" d="M229 260.7L251.8 247.8"/>
<path class="t" stroke-dasharray="27 5 5 5 40" d="M289.5 226.3L337 199.3"/>
<path class="t" d="M188.6 203.5L188.6 245"/>
<path class="t" d="M787 103.5L787.3 124"/>
<path class="t" d="M258.7 573.5L259.2 595"/>
<path class="t" d="M666 235.4L712.7 208"/>
<path class="t" d="M750 186.1L788.8 163.3"/>
<path class="t" d="M828 140.3L849.5 127.7"/>
<path class="t" d="M887 105.7L911 91.6"/>
<path class="t" stroke-dasharray="24 5 5 5 40" d="M922 85.1L969.5 57.3"/>
<path class="t" d="M974 54.6L985 48.2"/>
<path class="t" d="M405 550.5L360 576.3"/>
<path class="t" d="M322.5 597.8L299.5 611"/>
<path class="t" stroke-dasharray="28 6 40" d="M260.5 633.3L201.5 667.1"/>
<path class="t" stroke-dasharray="24 5 5 5" d="M172.5 683.7L120 713.8"/>
<path class="t" stroke-dasharray="15 5 5 5 40" d="M107.5 720.9L62 747"/>
<path class="t" d="M52 752.7L44 757.3"/>
<path class="t" d="M272.3 673.5L272.3 683"/>
<path class="t" d="M209.2 611L209.3 626.5"/>
<path class="t" d="M209.3 641.5L209.3 676"/>
<path class="td" d="M807.6 632L807.6 699"/>
<path class="t" d="M858.6 647L858.6 671"/>
<path class="t" d="M917 625L917 637"/>
<path class="t" d="M970.3 597L970.3 610"/>
<path class="t" d="M1033 561L1033 576"/>
<path class="t" d="M1080.5 536L1080.5 549"/>
<path class="t" d="M1078.8 29L1078.8 33"/>
<path class="t" d="M1078.8 57L1078.8 77"/>
<path class="t" d="M1078.8 101L1078.8 120"/>
<path class="t" d="M1078.8 189L1078.8 198"/>
<path class="t" d="M1078.8 226L1078.8 340"/>
<path class="l" d="M201.2 118.8L223.2 110.5"/>
<path class="l" d="M232 188.8L238.8 165"/>
<path class="l" d="M148.8 208.8L164.2 235.5"/>
<path class="l" d="M73.2 241.2L82.5 267.5"/>
<path class="l" d="M445 69.7L455 110"/>
<path class="l" d="M599.1 203.7L613.1 245.5"/>
<path class="l" d="M801.8 23.2L828 21.7"/>
<path class="l" d="M861.8 61.9L852.5 86.2"/>
<path class="l" d="M740 93.7L761.3 116.2"/>
<path class="l" d="M672.5 127.5L680 149.2"/>
<path class="l" d="M917.4 111L926.1 137.2"/>
<path class="l" d="M974.6 76.8L983.3 110.2"/>
<path class="l" d="M1008.5 54.5L1017.5 89.5"/>
<path class="l" d="M1086.9 19.5L1144.5 18.5"/>
<path class="l" d="M1090.6 48L1144.5 44.3"/>
<path class="l" d="M1106.8 76L1142 73"/>
<path class="l" d="M1106.4 141.5L1141 137.3"/>
<path class="l" d="M1097 212L1143.6 207"/>
<path class="l" d="M272.5 491.5L297.5 486"/>
<path class="l" d="M108.9 538.4L115 547.5"/>
<path class="l" d="M171.4 557.3L200.9 573.2"/>
<path class="l" d="M137.3 578.2L197.5 619"/>
<path class="l" d="M83.9 583.9L138.4 628.2"/>
<path class="l" d="M482.5 574L449 542.5"/>
<path class="l" d="M368.4 611.8L380.9 634.5"/>
<path class="l" d="M287 670.2L342 702.5"/>
<path class="l" d="M278.3 712.3L296.7 726.3"/>
<path class="l" d="M118.7 732.1L133.2 774.6"/>
<path class="l" d="M62.7 762L77.8 804.5"/>
<path class="l" d="M27 780.4L35.7 820"/>
<path class="l" d="M778.3 699.5L801 700.7"/>
<path class="l" d="M880.7 664.6L863 670.6"/>
<path class="l" d="M936.7 631.4L921.7 637.5"/>
<path class="l" d="M995 601.3L976 609"/>
<path class="l" d="M1048 573L1038 577"/>
<path class="l" d="M1108.4 561L1087.3 566.4"/>
<path class="l" d="M74.1 590.7L74.1 572.5L157.7 524.8L174.8 533.9"/>
<circle cx="83.9" cy="583.9" r="3.6" fill="#000"/>
<text x="223" y="111">130</text>
<text x="222" y="161">190</text>
<text x="127" y="204">120</text>
<text x="52" y="237.5">190</text>
<text x="430" y="66">80</text>
<text x="575.5" y="200">180</text>
<text x="829" y="28">130</text>
<text x="847" y="59">190</text>
<text x="717" y="92">120</text>
<text x="650" y="124">190</text>
<text x="916" y="157">90</text>
<text x="967" y="131">100</text>
<text x="1000.5" y="110">110</text>
<text x="1147" y="26">60</text>
<text x="1147" y="52.5">50</text>
<text x="1147" y="79">40</text>
<text x="1146" y="143">30</text>
<text x="1146" y="215.5">70</text>
<text x="296.5" y="492">130</text>
<text x="74" y="538.5">190</text>
<text x="135" y="555">200</text>
<text x="100.5" y="576">210</text>
<text x="477" y="593.5">180</text>
<text x="367" y="654">190</text>
<text x="341" y="720">120</text>
<text x="296.5" y="743">170</text>
<text x="124" y="794">90</text>
<text x="60.5" y="825">100</text>
<text x="19" y="841">110</text>
<text x="752" y="706.7">10</text>
<text x="881.5" y="671.8">20</text>
<text x="936" y="638.7">10</text>
<text x="996" y="609">20</text>
<text x="1047.4" y="580">10</text>
<text x="1108.6" y="567">20</text>
</svg></body></html>
